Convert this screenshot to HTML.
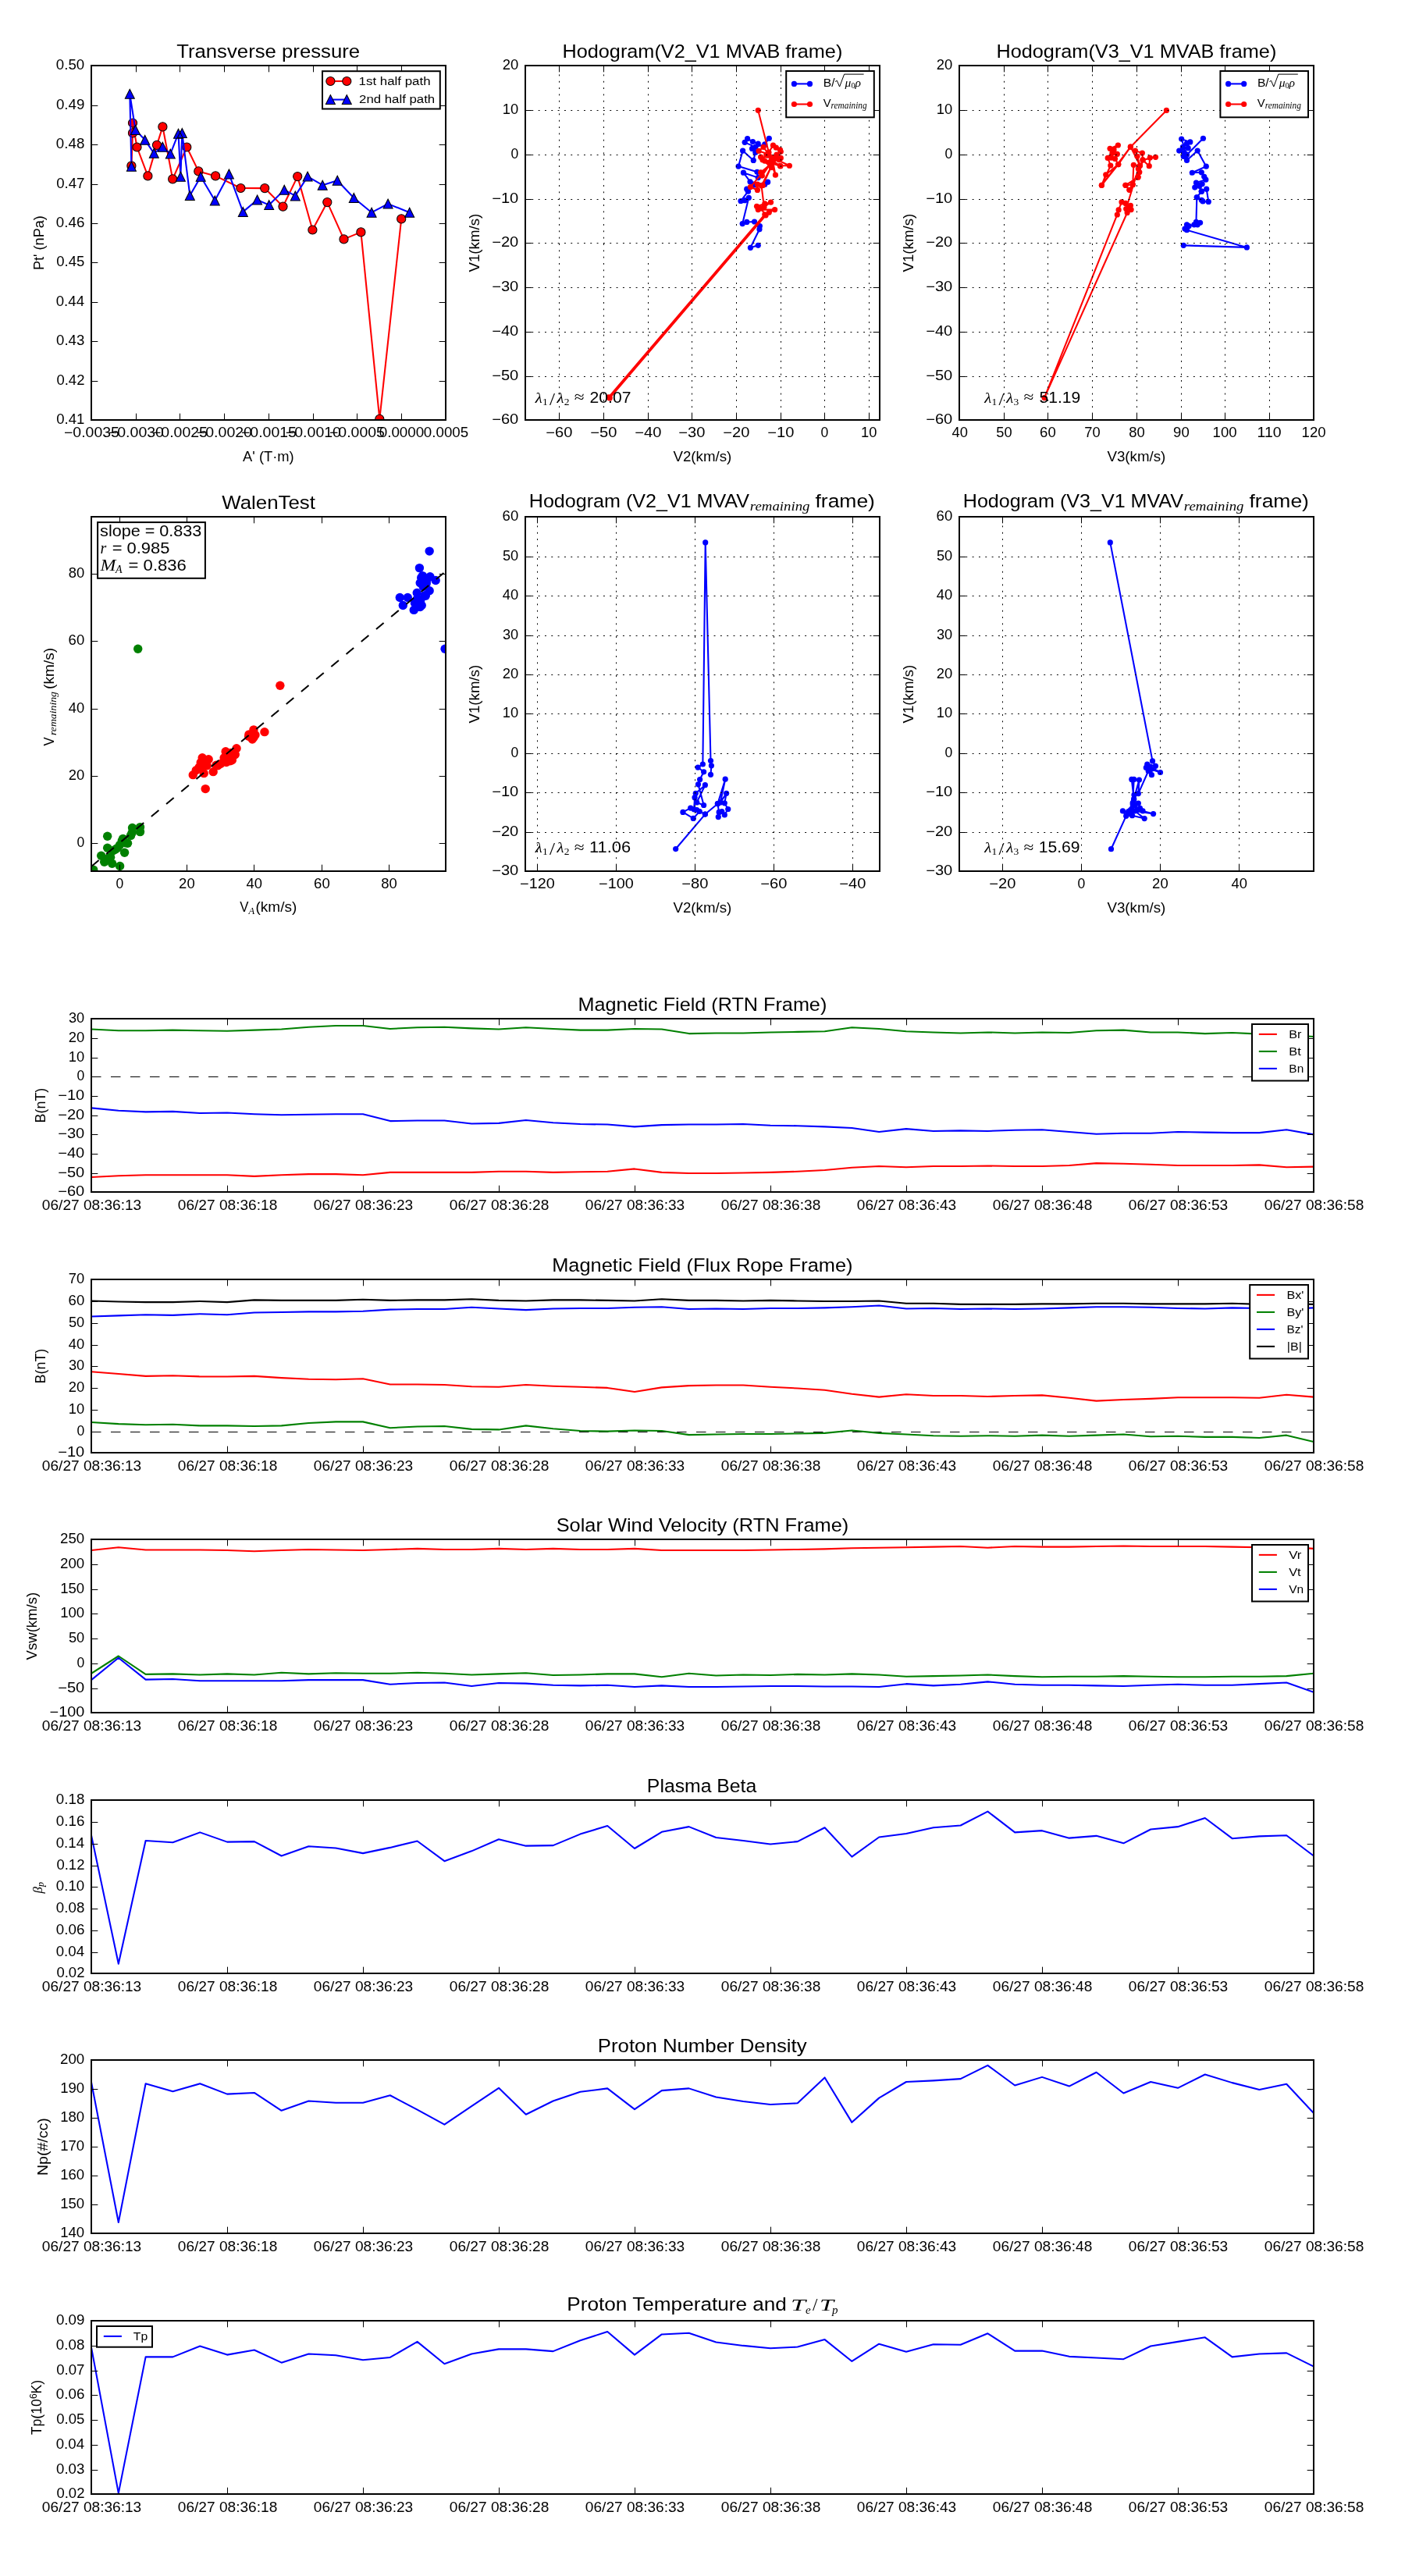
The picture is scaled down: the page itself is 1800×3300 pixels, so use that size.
<!DOCTYPE html>
<html><head><meta charset="utf-8"><title>Flux rope analysis</title>
<style>html,body{margin:0;padding:0;background:#fff}svg{display:block;font-family:"Liberation Sans",sans-serif}svg{will-change:transform}</style>
</head><body>
<svg width="1800" height="3300" viewBox="0 0 1800 3300">
<defs><clipPath id="c0"><rect x="117" y="84" width="454" height="454"/></clipPath><clipPath id="c1"><rect x="673" y="84" width="454" height="454"/></clipPath><clipPath id="c2"><rect x="1229" y="84" width="454" height="454"/></clipPath><clipPath id="c3"><rect x="117" y="662" width="454" height="454"/></clipPath><clipPath id="c4"><rect x="673" y="662" width="454" height="454"/></clipPath><clipPath id="c5"><rect x="1229" y="662" width="454" height="454"/></clipPath><clipPath id="c6"><rect x="117" y="1305" width="1566" height="222"/></clipPath><clipPath id="c7"><rect x="117" y="1639" width="1566" height="222"/></clipPath><clipPath id="c8"><rect x="117" y="1972" width="1566" height="222"/></clipPath><clipPath id="c9"><rect x="117" y="2306" width="1566" height="222"/></clipPath><clipPath id="c10"><rect x="117" y="2639" width="1566" height="222"/></clipPath><clipPath id="c11"><rect x="117" y="2973" width="1566" height="222"/></clipPath></defs>
<rect width="1800" height="3300" fill="#fff"/>
<path d="M168.4 212.4 L170 170.4 L170 157.5 L175.5 188.5 L189.4 225.4 L201 185.8 L208.4 162.4 L221.2 229.4 L239.3 188.5 L254.3 219.4 L276.1 225.4 L308.4 241 L339.2 241.1 L362.5 264.6 L381.2 226.1 L400.4 294.5 L419.3 259.1 L440.5 306.4 L462.4 297.4 L486.3 536.9 L514.2 280.4" stroke="#ff0000" stroke-width="2.08" fill="none" stroke-linejoin="round" stroke-linecap="butt" clip-path="url(#c0)"/>
<g fill="#ff0000" stroke="#000000" stroke-width="1.04" clip-path="url(#c0)"><circle cx="168.4" cy="212.4" r="5.6"/><circle cx="170" cy="170.4" r="5.6"/><circle cx="170" cy="157.5" r="5.6"/><circle cx="175.5" cy="188.5" r="5.6"/><circle cx="189.4" cy="225.4" r="5.6"/><circle cx="201" cy="185.8" r="5.6"/><circle cx="208.4" cy="162.4" r="5.6"/><circle cx="221.2" cy="229.4" r="5.6"/><circle cx="239.3" cy="188.5" r="5.6"/><circle cx="254.3" cy="219.4" r="5.6"/><circle cx="276.1" cy="225.4" r="5.6"/><circle cx="308.4" cy="241" r="5.6"/><circle cx="339.2" cy="241.1" r="5.6"/><circle cx="362.5" cy="264.6" r="5.6"/><circle cx="381.2" cy="226.1" r="5.6"/><circle cx="400.4" cy="294.5" r="5.6"/><circle cx="419.3" cy="259.1" r="5.6"/><circle cx="440.5" cy="306.4" r="5.6"/><circle cx="462.4" cy="297.4" r="5.6"/><circle cx="486.3" cy="536.9" r="5.6"/><circle cx="514.2" cy="280.4" r="5.6"/></g>
<path d="M168.4 213.2 L166.3 120.3 L173.5 166.4 L185.7 179.3 L197.3 196.3 L208.3 188.2 L218.3 197.1 L228.5 171.2 L231.4 226.2 L233.3 170.4 L243.3 250.4 L257.2 226.2 L275.3 256.9 L293.4 222.9 L311.3 271.4 L329.6 256 L344.7 262.6 L364.2 243.2 L378.3 250.9 L394.1 226.1 L413.2 237.2 L432.2 231.2 L453.3 253.5 L476.1 272.2 L497.1 261.1 L524.7 272.2" stroke="#0000ff" stroke-width="2.08" fill="none" stroke-linejoin="round" stroke-linecap="butt" clip-path="url(#c0)"/>
<path d="M168.4 207.2L162.4 219.2L174.4 219.2ZM166.3 114.3L160.3 126.3L172.3 126.3ZM173.5 160.4L167.5 172.4L179.5 172.4ZM185.7 173.3L179.7 185.3L191.7 185.3ZM197.3 190.3L191.3 202.3L203.3 202.3ZM208.3 182.2L202.3 194.2L214.3 194.2ZM218.3 191.1L212.3 203.1L224.3 203.1ZM228.5 165.2L222.5 177.2L234.5 177.2ZM231.4 220.2L225.4 232.2L237.4 232.2ZM233.3 164.4L227.3 176.4L239.3 176.4ZM243.3 244.4L237.3 256.4L249.3 256.4ZM257.2 220.2L251.2 232.2L263.2 232.2ZM275.3 250.9L269.3 262.9L281.3 262.9ZM293.4 216.9L287.4 228.9L299.4 228.9ZM311.3 265.4L305.3 277.4L317.3 277.4ZM329.6 250L323.6 262L335.6 262ZM344.7 256.6L338.7 268.6L350.7 268.6ZM364.2 237.2L358.2 249.2L370.2 249.2ZM378.3 244.9L372.3 256.9L384.3 256.9ZM394.1 220.1L388.1 232.1L400.1 232.1ZM413.2 231.2L407.2 243.2L419.2 243.2ZM432.2 225.2L426.2 237.2L438.2 237.2ZM453.3 247.5L447.3 259.5L459.3 259.5ZM476.1 266.2L470.1 278.2L482.1 278.2ZM497.1 255.1L491.1 267.1L503.1 267.1ZM524.7 266.2L518.7 278.2L530.7 278.2Z" fill="#0000ff" stroke="#000" stroke-width="1.04" stroke-linejoin="miter" clip-path="url(#c0)"/>
<rect x="117" y="84" width="454" height="454" fill="none" stroke="#000" stroke-width="2"/>
<text x="82" y="560" font-size="17.67" textLength="70.85" lengthAdjust="spacingAndGlyphs">−0.0035</text>
<text x="138.83" y="560" font-size="17.67" textLength="71.15" lengthAdjust="spacingAndGlyphs">−0.0030</text>
<text x="195" y="560" font-size="17.67" textLength="70.85" lengthAdjust="spacingAndGlyphs">−0.0025</text>
<text x="251.83" y="560" font-size="17.67" textLength="71.15" lengthAdjust="spacingAndGlyphs">−0.0020</text>
<text x="309" y="560" font-size="17.67" textLength="70.85" lengthAdjust="spacingAndGlyphs">−0.0015</text>
<text x="365.83" y="560" font-size="17.67" textLength="71.15" lengthAdjust="spacingAndGlyphs">−0.0010</text>
<text x="422" y="560" font-size="17.67" textLength="70.85" lengthAdjust="spacingAndGlyphs">−0.0005</text>
<text x="485.7" y="560" font-size="17.67" textLength="57.59" lengthAdjust="spacingAndGlyphs">0.0000</text>
<text x="542.88" y="560" font-size="17.67" textLength="57.29" lengthAdjust="spacingAndGlyphs">0.0005</text>
<path d="M117.5 538v-8.33 M117.5 84v8.33 M174.5 538v-8.33 M174.5 84v8.33 M230.5 538v-8.33 M230.5 84v8.33 M287.5 538v-8.33 M287.5 84v8.33 M344.5 538v-8.33 M344.5 84v8.33 M401.5 538v-8.33 M401.5 84v8.33 M457.5 538v-8.33 M457.5 84v8.33 M514.5 538v-8.33 M514.5 84v8.33 M571.5 538v-8.33 M571.5 84v8.33" stroke="#000" stroke-width="1" fill="none"/>
<text x="72.3" y="542.9" font-size="17.67" textLength="36.11" lengthAdjust="spacingAndGlyphs">0.41</text>
<text x="72.43" y="492.9" font-size="17.67" textLength="36" lengthAdjust="spacingAndGlyphs">0.42</text>
<text x="72.09" y="441.9" font-size="17.67" textLength="36.23" lengthAdjust="spacingAndGlyphs">0.43</text>
<text x="71.69" y="391.9" font-size="17.67" textLength="36.36" lengthAdjust="spacingAndGlyphs">0.44</text>
<text x="72.22" y="340.9" font-size="17.67" textLength="36.06" lengthAdjust="spacingAndGlyphs">0.45</text>
<text x="71.8" y="290.9" font-size="17.67" textLength="36.53" lengthAdjust="spacingAndGlyphs">0.46</text>
<text x="72.18" y="240.9" font-size="17.67" textLength="36.26" lengthAdjust="spacingAndGlyphs">0.47</text>
<text x="71.89" y="189.9" font-size="17.67" textLength="36.42" lengthAdjust="spacingAndGlyphs">0.48</text>
<text x="71.92" y="139.9" font-size="17.67" textLength="36.47" lengthAdjust="spacingAndGlyphs">0.49</text>
<text x="71.86" y="88.9" font-size="17.67" textLength="36.37" lengthAdjust="spacingAndGlyphs">0.50</text>
<path d="M117 538.5h8.33 M571 538.5h-8.33 M117 488.5h8.33 M571 488.5h-8.33 M117 437.5h8.33 M571 437.5h-8.33 M117 387.5h8.33 M571 387.5h-8.33 M117 336.5h8.33 M571 336.5h-8.33 M117 286.5h8.33 M571 286.5h-8.33 M117 236.5h8.33 M571 236.5h-8.33 M117 185.5h8.33 M571 185.5h-8.33 M117 135.5h8.33 M571 135.5h-8.33 M117 84.5h8.33 M571 84.5h-8.33" stroke="#000" stroke-width="1" fill="none"/>
<text x="226.18" y="73.8" font-size="24.3" textLength="234.92" lengthAdjust="spacingAndGlyphs">Transverse pressure</text>
<text x="311.09" y="590.8" font-size="17.67" textLength="65.62" lengthAdjust="spacingAndGlyphs">A' (T·m)</text>
<text x="20.88" y="311" font-size="17.67" textLength="69.85" lengthAdjust="spacingAndGlyphs" transform="rotate(-90 55.88 311)">Pt' (nPa)</text>
<rect x="413" y="91.2" width="150.8" height="48.3" fill="#fff" stroke="#000" stroke-width="2"/>
<path d="M423.4 104H444.3" stroke="#ff0000" stroke-width="2.08"/>
<g fill="#ff0000" stroke="#000" stroke-width="1.04"><circle cx="423.4" cy="104" r="5.6"/><circle cx="444.3" cy="104" r="5.6"/></g>
<path d="M423.4 127.6H444.3" stroke="#0000ff" stroke-width="2.08"/>
<path d="M423.4 121.6L417.4 133.6L429.4 133.6ZM444.3 121.6L438.3 133.6L450.3 133.6Z" fill="#0000ff" stroke="#000" stroke-width="1.04"/>
<text x="459.62" y="108.8" font-size="15.45" textLength="91.9" lengthAdjust="spacingAndGlyphs">1st half path</text>
<text x="460.05" y="131.8" font-size="15.45" textLength="97.18" lengthAdjust="spacingAndGlyphs">2nd half path</text>
<path d="M971.25 314.31 L961.42 317.3 L972.96 293.81 L973.38 289.54 L966.55 283.99 L956.73 284.42 L951.18 286.55 L959.29 253.24 L954.16 256.66 L949.04 257.51 L958.44 245.13 L956.73 242.14 L966.12 237.01 L983.63 233.17 L979.79 236.16 L961 232.74 L952.46 221.21 L971.25 227.62 L969.97 220.36 L946.05 213.1 L951.6 193.03 L965.27 205.41 L967.83 195.16 L963.56 190.46 L971.25 184.06 L964.41 181.5 L957.58 177.65 L954.16 182.35 L967.83 188.33 L979.79 184.91 L985.34 177.23" stroke="#0000ff" stroke-width="2.08" fill="none" stroke-linejoin="round" stroke-linecap="butt" clip-path="url(#c1)"/>
<g fill="#0000ff" clip-path="url(#c1)"><circle cx="971.25" cy="314.31" r="3.6"/><circle cx="961.42" cy="317.3" r="3.6"/><circle cx="972.96" cy="293.81" r="3.6"/><circle cx="973.38" cy="289.54" r="3.6"/><circle cx="966.55" cy="283.99" r="3.6"/><circle cx="956.73" cy="284.42" r="3.6"/><circle cx="951.18" cy="286.55" r="3.6"/><circle cx="959.29" cy="253.24" r="3.6"/><circle cx="954.16" cy="256.66" r="3.6"/><circle cx="949.04" cy="257.51" r="3.6"/><circle cx="958.44" cy="245.13" r="3.6"/><circle cx="956.73" cy="242.14" r="3.6"/><circle cx="966.12" cy="237.01" r="3.6"/><circle cx="983.63" cy="233.17" r="3.6"/><circle cx="979.79" cy="236.16" r="3.6"/><circle cx="961" cy="232.74" r="3.6"/><circle cx="952.46" cy="221.21" r="3.6"/><circle cx="971.25" cy="227.62" r="3.6"/><circle cx="969.97" cy="220.36" r="3.6"/><circle cx="946.05" cy="213.1" r="3.6"/><circle cx="951.6" cy="193.03" r="3.6"/><circle cx="965.27" cy="205.41" r="3.6"/><circle cx="967.83" cy="195.16" r="3.6"/><circle cx="963.56" cy="190.46" r="3.6"/><circle cx="971.25" cy="184.06" r="3.6"/><circle cx="964.41" cy="181.5" r="3.6"/><circle cx="957.58" cy="177.65" r="3.6"/><circle cx="954.16" cy="182.35" r="3.6"/><circle cx="967.83" cy="188.33" r="3.6"/><circle cx="979.79" cy="184.91" r="3.6"/><circle cx="985.34" cy="177.23" r="3.6"/></g>
<path d="M971.25 141.35 L984.91 195.16 L990.46 186.19 L994.31 189.18 L999.43 191.75 L1000.29 194.31 L990.04 205.41 L978.08 188.33 L972.1 193.45 L1000.29 202.42 L974.66 201.14 L979.79 206.27 L999.43 212.24 L1011.39 212.24 L981.85 198.22 L991.67 201.49 L998.22 204.76 L985.12 208.04 L994.94 198.22 L988.39 214.59 L976.94 204.76 L999.85 212.95 L988.39 204.76 L990.04 206.27 L993.45 224.2 L988.33 209.68 L974.66 220.79 L976.37 225.06 L990.04 205.41 L961.42 239.58 L970.39 243.42 L970.39 236.16 L977.23 237.44 L988.33 213.1 L975.52 237.87 L978.93 265.2 L987.48 259.22 L979.79 260.93 L969.54 264.35 L971.25 268.62 L992.6 268.62 L985.34 272.03 L979.79 274.77 L779.9 508.8 L781.2 509.9 L981.09 275.87 L974.66 266.91" stroke="#ff0000" stroke-width="2.08" fill="none" stroke-linejoin="round" stroke-linecap="butt" clip-path="url(#c1)"/>
<g fill="#ff0000" clip-path="url(#c1)"><circle cx="971.25" cy="141.35" r="3.6"/><circle cx="984.91" cy="195.16" r="3.6"/><circle cx="990.46" cy="186.19" r="3.6"/><circle cx="994.31" cy="189.18" r="3.6"/><circle cx="999.43" cy="191.75" r="3.6"/><circle cx="1000.29" cy="194.31" r="3.6"/><circle cx="990.04" cy="205.41" r="3.6"/><circle cx="978.08" cy="188.33" r="3.6"/><circle cx="972.1" cy="193.45" r="3.6"/><circle cx="1000.29" cy="202.42" r="3.6"/><circle cx="974.66" cy="201.14" r="3.6"/><circle cx="979.79" cy="206.27" r="3.6"/><circle cx="999.43" cy="212.24" r="3.6"/><circle cx="1011.39" cy="212.24" r="3.6"/><circle cx="981.85" cy="198.22" r="3.6"/><circle cx="991.67" cy="201.49" r="3.6"/><circle cx="998.22" cy="204.76" r="3.6"/><circle cx="985.12" cy="208.04" r="3.6"/><circle cx="994.94" cy="198.22" r="3.6"/><circle cx="988.39" cy="214.59" r="3.6"/><circle cx="976.94" cy="204.76" r="3.6"/><circle cx="999.85" cy="212.95" r="3.6"/><circle cx="988.39" cy="204.76" r="3.6"/><circle cx="990.04" cy="206.27" r="3.6"/><circle cx="993.45" cy="224.2" r="3.6"/><circle cx="988.33" cy="209.68" r="3.6"/><circle cx="974.66" cy="220.79" r="3.6"/><circle cx="976.37" cy="225.06" r="3.6"/><circle cx="990.04" cy="205.41" r="3.6"/><circle cx="961.42" cy="239.58" r="3.6"/><circle cx="970.39" cy="243.42" r="3.6"/><circle cx="970.39" cy="236.16" r="3.6"/><circle cx="977.23" cy="237.44" r="3.6"/><circle cx="988.33" cy="213.1" r="3.6"/><circle cx="975.52" cy="237.87" r="3.6"/><circle cx="978.93" cy="265.2" r="3.6"/><circle cx="987.48" cy="259.22" r="3.6"/><circle cx="979.79" cy="260.93" r="3.6"/><circle cx="969.54" cy="264.35" r="3.6"/><circle cx="971.25" cy="268.62" r="3.6"/><circle cx="992.6" cy="268.62" r="3.6"/><circle cx="985.34" cy="272.03" r="3.6"/><circle cx="979.79" cy="274.77" r="3.6"/><circle cx="779.9" cy="508.8" r="3.6"/><circle cx="781.2" cy="509.9" r="3.6"/><circle cx="981.09" cy="275.87" r="3.6"/><circle cx="974.66" cy="266.91" r="3.6"/></g>
<rect x="673" y="84" width="454" height="454" fill="none" stroke="#000" stroke-width="2"/>
<text x="699.36" y="560" font-size="17.67" textLength="34.08" lengthAdjust="spacingAndGlyphs">−60</text>
<text x="756.36" y="560" font-size="17.67" textLength="34.08" lengthAdjust="spacingAndGlyphs">−50</text>
<text x="813.36" y="560" font-size="17.67" textLength="34.08" lengthAdjust="spacingAndGlyphs">−40</text>
<text x="869.36" y="560" font-size="17.67" textLength="34.08" lengthAdjust="spacingAndGlyphs">−30</text>
<text x="926.36" y="560" font-size="17.67" textLength="34.08" lengthAdjust="spacingAndGlyphs">−20</text>
<text x="983.36" y="560" font-size="17.67" textLength="34.08" lengthAdjust="spacingAndGlyphs">−10</text>
<text x="1051.61" y="560" font-size="17.67" textLength="9.77" lengthAdjust="spacingAndGlyphs">0</text>
<text x="1102.97" y="560" font-size="17.67" textLength="20.39" lengthAdjust="spacingAndGlyphs">10</text>
<path d="M716.5 538.85V84 M773.5 538.85V84 M830.5 538.85V84 M886.5 538.85V84 M943.5 538.85V84 M1000.5 538.85V84 M1056.5 538.85V84 M1113.5 538.85V84" stroke="#000" stroke-width="1" stroke-dasharray="1.9 6.43" fill="none"/>
<path d="M716.5 538v-8.33 M716.5 84v8.33 M773.5 538v-8.33 M773.5 84v8.33 M830.5 538v-8.33 M830.5 84v8.33 M886.5 538v-8.33 M886.5 84v8.33 M943.5 538v-8.33 M943.5 84v8.33 M1000.5 538v-8.33 M1000.5 84v8.33 M1056.5 538v-8.33 M1056.5 84v8.33 M1113.5 538v-8.33 M1113.5 84v8.33" stroke="#000" stroke-width="1" fill="none"/>
<text x="630.2" y="542.9" font-size="17.67" textLength="34.08" lengthAdjust="spacingAndGlyphs">−60</text>
<text x="630.2" y="486.9" font-size="17.67" textLength="34.08" lengthAdjust="spacingAndGlyphs">−50</text>
<text x="630.2" y="429.9" font-size="17.67" textLength="34.08" lengthAdjust="spacingAndGlyphs">−40</text>
<text x="630.2" y="372.9" font-size="17.67" textLength="34.08" lengthAdjust="spacingAndGlyphs">−30</text>
<text x="630.2" y="315.9" font-size="17.67" textLength="34.08" lengthAdjust="spacingAndGlyphs">−20</text>
<text x="630.2" y="259.9" font-size="17.67" textLength="34.08" lengthAdjust="spacingAndGlyphs">−10</text>
<text x="654.41" y="202.9" font-size="17.67" textLength="9.77" lengthAdjust="spacingAndGlyphs">0</text>
<text x="643.83" y="145.9" font-size="17.67" textLength="20.39" lengthAdjust="spacingAndGlyphs">10</text>
<text x="643.69" y="88.9" font-size="17.67" textLength="20.53" lengthAdjust="spacingAndGlyphs">20</text>
<path d="M673 538.5H1127 M673 482.5H1127 M673 425.5H1127 M673 368.5H1127 M673 311.5H1127 M673 255.5H1127 M673 198.5H1127 M673 141.5H1127 M673 84.5H1127" stroke="#000" stroke-width="1" stroke-dasharray="1.9 6.43" fill="none"/>
<path d="M673 538.5h8.33 M1127 538.5h-8.33 M673 482.5h8.33 M1127 482.5h-8.33 M673 425.5h8.33 M1127 425.5h-8.33 M673 368.5h8.33 M1127 368.5h-8.33 M673 311.5h8.33 M1127 311.5h-8.33 M673 255.5h8.33 M1127 255.5h-8.33 M673 198.5h8.33 M1127 198.5h-8.33 M673 141.5h8.33 M1127 141.5h-8.33 M673 84.5h8.33 M1127 84.5h-8.33" stroke="#000" stroke-width="1" fill="none"/>
<text x="720.47" y="73.8" font-size="24.3" textLength="358.83" lengthAdjust="spacingAndGlyphs">Hodogram(V2_V1 MVAB frame)</text>
<text x="862.44" y="590.8" font-size="17.67" textLength="74.89" lengthAdjust="spacingAndGlyphs">V2(km/s)</text>
<text x="576.26" y="311" font-size="17.67" textLength="74.89" lengthAdjust="spacingAndGlyphs" transform="rotate(-90 613.82 311)">V1(km/s)</text>
<path d="M1541.42 177.26 L1520.5 198.19 L1513.67 178.11 L1524.77 181.96 L1520.5 183.67 L1515.37 188.36 L1522.21 189.64 L1510.68 193.06 L1517.08 195.62 L1519.64 199.04 L1516.23 200.32 L1520.5 205.45 L1534.16 193.06 L1545.27 213.13 L1527.33 221.25 L1539.29 220.82 L1542.71 226.37 L1544.84 230.22 L1532.46 234.06 L1540.14 235.77 L1530.75 240.04 L1536.73 238.33 L1539.29 245.16 L1545.7 242.17 L1548.26 258.4 L1541 257.97 L1539.29 256.27 L1533.31 252.85 L1539.29 245.16 L1533.31 252.85 L1532.46 284.45 L1537.58 285.31 L1534.16 287.87 L1529.89 287.87 L1523.06 289.58 L1520.5 287.87 L1517.94 292.99 L1520.5 294.7 L1597.37 316.91 L1516.23 314.35" stroke="#0000ff" stroke-width="2.08" fill="none" stroke-linejoin="round" stroke-linecap="butt" clip-path="url(#c2)"/>
<g fill="#0000ff" clip-path="url(#c2)"><circle cx="1541.42" cy="177.26" r="3.6"/><circle cx="1520.5" cy="198.19" r="3.6"/><circle cx="1513.67" cy="178.11" r="3.6"/><circle cx="1524.77" cy="181.96" r="3.6"/><circle cx="1520.5" cy="183.67" r="3.6"/><circle cx="1515.37" cy="188.36" r="3.6"/><circle cx="1522.21" cy="189.64" r="3.6"/><circle cx="1510.68" cy="193.06" r="3.6"/><circle cx="1517.08" cy="195.62" r="3.6"/><circle cx="1519.64" cy="199.04" r="3.6"/><circle cx="1516.23" cy="200.32" r="3.6"/><circle cx="1520.5" cy="205.45" r="3.6"/><circle cx="1534.16" cy="193.06" r="3.6"/><circle cx="1545.27" cy="213.13" r="3.6"/><circle cx="1527.33" cy="221.25" r="3.6"/><circle cx="1539.29" cy="220.82" r="3.6"/><circle cx="1542.71" cy="226.37" r="3.6"/><circle cx="1544.84" cy="230.22" r="3.6"/><circle cx="1532.46" cy="234.06" r="3.6"/><circle cx="1540.14" cy="235.77" r="3.6"/><circle cx="1530.75" cy="240.04" r="3.6"/><circle cx="1536.73" cy="238.33" r="3.6"/><circle cx="1539.29" cy="245.16" r="3.6"/><circle cx="1545.7" cy="242.17" r="3.6"/><circle cx="1548.26" cy="258.4" r="3.6"/><circle cx="1541" cy="257.97" r="3.6"/><circle cx="1539.29" cy="256.27" r="3.6"/><circle cx="1533.31" cy="252.85" r="3.6"/><circle cx="1539.29" cy="245.16" r="3.6"/><circle cx="1533.31" cy="252.85" r="3.6"/><circle cx="1532.46" cy="284.45" r="3.6"/><circle cx="1537.58" cy="285.31" r="3.6"/><circle cx="1534.16" cy="287.87" r="3.6"/><circle cx="1529.89" cy="287.87" r="3.6"/><circle cx="1523.06" cy="289.58" r="3.6"/><circle cx="1520.5" cy="287.87" r="3.6"/><circle cx="1517.94" cy="292.99" r="3.6"/><circle cx="1520.5" cy="294.7" r="3.6"/><circle cx="1597.37" cy="316.91" r="3.6"/><circle cx="1516.23" cy="314.35" r="3.6"/></g>
<path d="M1444.13 272.49 L1338 509.6 L1431.32 274.98 L1433.1 268.93 L1437.01 258.97 L1441.99 260.39 L1449.11 268.58 L1448.4 263.24 L1442.7 267.51 L1458.36 216.26 L1458.01 226.94 L1459.79 220.53 L1446.98 243.31 L1441.99 237.26 L1451.25 236.55 L1452.31 211.28 L1460.5 211.99 L1456.94 200.25 L1454.45 193.13 L1463.35 195.98 L1464.06 204.88 L1472.24 212.7 L1473.31 202.03 L1480.43 201.32 L1464.06 204.88 L1458.01 226.94 L1441.99 237.26 L1446.98 243.31 L1451.25 236.55 L1460.5 211.99 L1448.4 188.15 L1432.74 210.57 L1416.73 223.74 L1411.39 237.26 L1422.78 211.99 L1419.22 202.38 L1423.49 202.03 L1424.91 196.33 L1422.06 190.28 L1432.38 186.01 L1427.05 192.06 L1431.32 197.4 L1428.47 203.45 L1432.74 210.57 L1411.39 237.26 L1448.4 188.15 L1494.4 141.4" stroke="#ff0000" stroke-width="2.08" fill="none" stroke-linejoin="round" stroke-linecap="butt" clip-path="url(#c2)"/>
<g fill="#ff0000" clip-path="url(#c2)"><circle cx="1444.13" cy="272.49" r="3.6"/><circle cx="1338" cy="509.6" r="3.6"/><circle cx="1431.32" cy="274.98" r="3.6"/><circle cx="1433.1" cy="268.93" r="3.6"/><circle cx="1437.01" cy="258.97" r="3.6"/><circle cx="1441.99" cy="260.39" r="3.6"/><circle cx="1449.11" cy="268.58" r="3.6"/><circle cx="1448.4" cy="263.24" r="3.6"/><circle cx="1442.7" cy="267.51" r="3.6"/><circle cx="1458.36" cy="216.26" r="3.6"/><circle cx="1458.01" cy="226.94" r="3.6"/><circle cx="1459.79" cy="220.53" r="3.6"/><circle cx="1446.98" cy="243.31" r="3.6"/><circle cx="1441.99" cy="237.26" r="3.6"/><circle cx="1451.25" cy="236.55" r="3.6"/><circle cx="1452.31" cy="211.28" r="3.6"/><circle cx="1460.5" cy="211.99" r="3.6"/><circle cx="1456.94" cy="200.25" r="3.6"/><circle cx="1454.45" cy="193.13" r="3.6"/><circle cx="1463.35" cy="195.98" r="3.6"/><circle cx="1464.06" cy="204.88" r="3.6"/><circle cx="1472.24" cy="212.7" r="3.6"/><circle cx="1473.31" cy="202.03" r="3.6"/><circle cx="1480.43" cy="201.32" r="3.6"/><circle cx="1464.06" cy="204.88" r="3.6"/><circle cx="1458.01" cy="226.94" r="3.6"/><circle cx="1441.99" cy="237.26" r="3.6"/><circle cx="1446.98" cy="243.31" r="3.6"/><circle cx="1451.25" cy="236.55" r="3.6"/><circle cx="1460.5" cy="211.99" r="3.6"/><circle cx="1448.4" cy="188.15" r="3.6"/><circle cx="1432.74" cy="210.57" r="3.6"/><circle cx="1416.73" cy="223.74" r="3.6"/><circle cx="1411.39" cy="237.26" r="3.6"/><circle cx="1422.78" cy="211.99" r="3.6"/><circle cx="1419.22" cy="202.38" r="3.6"/><circle cx="1423.49" cy="202.03" r="3.6"/><circle cx="1424.91" cy="196.33" r="3.6"/><circle cx="1422.06" cy="190.28" r="3.6"/><circle cx="1432.38" cy="186.01" r="3.6"/><circle cx="1427.05" cy="192.06" r="3.6"/><circle cx="1431.32" cy="197.4" r="3.6"/><circle cx="1428.47" cy="203.45" r="3.6"/><circle cx="1432.74" cy="210.57" r="3.6"/><circle cx="1411.39" cy="237.26" r="3.6"/><circle cx="1448.4" cy="188.15" r="3.6"/><circle cx="1494.4" cy="141.4" r="3.6"/></g>
<rect x="1229" y="84" width="454" height="454" fill="none" stroke="#000" stroke-width="2"/>
<text x="1219.43" y="560" font-size="17.67" textLength="20.43" lengthAdjust="spacingAndGlyphs">40</text>
<text x="1276.36" y="560" font-size="17.67" textLength="20.26" lengthAdjust="spacingAndGlyphs">50</text>
<text x="1332.09" y="560" font-size="17.67" textLength="20.61" lengthAdjust="spacingAndGlyphs">60</text>
<text x="1389.19" y="560" font-size="17.67" textLength="20.39" lengthAdjust="spacingAndGlyphs">70</text>
<text x="1446.21" y="560" font-size="17.67" textLength="20.49" lengthAdjust="spacingAndGlyphs">80</text>
<text x="1503.1" y="560" font-size="17.67" textLength="20.65" lengthAdjust="spacingAndGlyphs">90</text>
<text x="1553.64" y="560" font-size="17.67" textLength="31.02" lengthAdjust="spacingAndGlyphs">100</text>
<text x="1610.64" y="560" font-size="17.67" textLength="31.02" lengthAdjust="spacingAndGlyphs">110</text>
<text x="1667.64" y="560" font-size="17.67" textLength="31.02" lengthAdjust="spacingAndGlyphs">120</text>
<path d="M1229.5 538.85V84 M1286.5 538.85V84 M1342.5 538.85V84 M1399.5 538.85V84 M1456.5 538.85V84 M1513.5 538.85V84 M1569.5 538.85V84 M1626.5 538.85V84 M1683.5 538.85V84" stroke="#000" stroke-width="1" stroke-dasharray="1.9 6.43" fill="none"/>
<path d="M1229.5 538v-8.33 M1229.5 84v8.33 M1286.5 538v-8.33 M1286.5 84v8.33 M1342.5 538v-8.33 M1342.5 84v8.33 M1399.5 538v-8.33 M1399.5 84v8.33 M1456.5 538v-8.33 M1456.5 84v8.33 M1513.5 538v-8.33 M1513.5 84v8.33 M1569.5 538v-8.33 M1569.5 84v8.33 M1626.5 538v-8.33 M1626.5 84v8.33 M1683.5 538v-8.33 M1683.5 84v8.33" stroke="#000" stroke-width="1" fill="none"/>
<text x="1186.2" y="542.9" font-size="17.67" textLength="34.08" lengthAdjust="spacingAndGlyphs">−60</text>
<text x="1186.2" y="486.9" font-size="17.67" textLength="34.08" lengthAdjust="spacingAndGlyphs">−50</text>
<text x="1186.2" y="429.9" font-size="17.67" textLength="34.08" lengthAdjust="spacingAndGlyphs">−40</text>
<text x="1186.2" y="372.9" font-size="17.67" textLength="34.08" lengthAdjust="spacingAndGlyphs">−30</text>
<text x="1186.2" y="315.9" font-size="17.67" textLength="34.08" lengthAdjust="spacingAndGlyphs">−20</text>
<text x="1186.2" y="259.9" font-size="17.67" textLength="34.08" lengthAdjust="spacingAndGlyphs">−10</text>
<text x="1210.41" y="202.9" font-size="17.67" textLength="9.77" lengthAdjust="spacingAndGlyphs">0</text>
<text x="1199.83" y="145.9" font-size="17.67" textLength="20.39" lengthAdjust="spacingAndGlyphs">10</text>
<text x="1199.69" y="88.9" font-size="17.67" textLength="20.53" lengthAdjust="spacingAndGlyphs">20</text>
<path d="M1229 538.5H1683 M1229 482.5H1683 M1229 425.5H1683 M1229 368.5H1683 M1229 311.5H1683 M1229 255.5H1683 M1229 198.5H1683 M1229 141.5H1683 M1229 84.5H1683" stroke="#000" stroke-width="1" stroke-dasharray="1.9 6.43" fill="none"/>
<path d="M1229 538.5h8.33 M1683 538.5h-8.33 M1229 482.5h8.33 M1683 482.5h-8.33 M1229 425.5h8.33 M1683 425.5h-8.33 M1229 368.5h8.33 M1683 368.5h-8.33 M1229 311.5h8.33 M1683 311.5h-8.33 M1229 255.5h8.33 M1683 255.5h-8.33 M1229 198.5h8.33 M1683 198.5h-8.33 M1229 141.5h8.33 M1683 141.5h-8.33 M1229 84.5h8.33 M1683 84.5h-8.33" stroke="#000" stroke-width="1" fill="none"/>
<text x="1276.47" y="73.8" font-size="24.3" textLength="358.83" lengthAdjust="spacingAndGlyphs">Hodogram(V3_V1 MVAB frame)</text>
<text x="1418.44" y="590.8" font-size="17.67" textLength="74.89" lengthAdjust="spacingAndGlyphs">V3(km/s)</text>
<text x="1132.26" y="311" font-size="17.67" textLength="74.89" lengthAdjust="spacingAndGlyphs" transform="rotate(-90 1169.82 311)">V1(km/s)</text>
<rect x="1007.2" y="91" width="112.6" height="59.3" fill="#fff" stroke="#000" stroke-width="2"/>
<path d="M1017.4 107.4H1037.5" stroke="#0000ff" stroke-width="2.08"/>
<g fill="#0000ff"><circle cx="1017.4" cy="107.4" r="3.6"/><circle cx="1037.5" cy="107.4" r="3.6"/></g>
<path d="M1017.4 133.5H1037.5" stroke="#ff0000" stroke-width="2.08"/>
<g fill="#ff0000"><circle cx="1017.4" cy="133.5" r="3.6"/><circle cx="1037.5" cy="133.5" r="3.6"/></g>
<text x="1054.75" y="110.8" font-size="15.45" textLength="14.77" lengthAdjust="spacingAndGlyphs">B/</text>
<path d="M1070.1 104.5l2.2 -1.2l3.3 7.8l6.0 -16.0H1106.6" stroke="#000" stroke-width="1" fill="none"/>
<text x="1082.6" y="110.8" font-family="Liberation Serif" font-style="italic" font-size="15.5">μ<tspan font-size="10" dy="2.5" font-style="normal">0</tspan><tspan dy="-2.5">ρ</tspan></text>
<text x="1054.65" y="137.2" font-size="15.45" textLength="9.87" lengthAdjust="spacingAndGlyphs">V</text>
<text x="1064.6" y="139" font-family="Liberation Serif" font-style="italic" font-size="13" textLength="46" lengthAdjust="spacingAndGlyphs">remaining</text>
<rect x="1563.4" y="91" width="112.6" height="59.3" fill="#fff" stroke="#000" stroke-width="2"/>
<path d="M1573.6 107.4H1593.7" stroke="#0000ff" stroke-width="2.08"/>
<g fill="#0000ff"><circle cx="1573.6" cy="107.4" r="3.6"/><circle cx="1593.7" cy="107.4" r="3.6"/></g>
<path d="M1573.6 133.5H1593.7" stroke="#ff0000" stroke-width="2.08"/>
<g fill="#ff0000"><circle cx="1573.6" cy="133.5" r="3.6"/><circle cx="1593.7" cy="133.5" r="3.6"/></g>
<text x="1610.95" y="110.8" font-size="15.45" textLength="14.77" lengthAdjust="spacingAndGlyphs">B/</text>
<path d="M1626.3 104.5l2.2 -1.2l3.3 7.8l6.0 -16.0H1662.8" stroke="#000" stroke-width="1" fill="none"/>
<text x="1638.8" y="110.8" font-family="Liberation Serif" font-style="italic" font-size="15.5">μ<tspan font-size="10" dy="2.5" font-style="normal">0</tspan><tspan dy="-2.5">ρ</tspan></text>
<text x="1610.85" y="137.2" font-size="15.45" textLength="9.87" lengthAdjust="spacingAndGlyphs">V</text>
<text x="1620.8" y="139" font-family="Liberation Serif" font-style="italic" font-size="13" textLength="46" lengthAdjust="spacingAndGlyphs">remaining</text>
<text x="685.7" y="515.9" font-family="Liberation Serif" font-style="italic" font-size="19.5" textLength="9" lengthAdjust="spacingAndGlyphs">λ</text>
<text x="694.9" y="518.5" font-family="Liberation Serif" font-size="13.5">1</text>
<text x="703.9" y="518.9" font-family="Liberation Serif" font-size="24" textLength="7" lengthAdjust="spacingAndGlyphs">/</text>
<text x="713.6" y="515.9" font-family="Liberation Serif" font-style="italic" font-size="19.5" textLength="9" lengthAdjust="spacingAndGlyphs">λ</text>
<text x="722.8" y="518.5" font-family="Liberation Serif" font-size="13.5">2</text>
<text x="735.8" y="515.4" font-family="Liberation Serif" font-size="20" textLength="12.9" lengthAdjust="spacingAndGlyphs">≈</text>
<text x="755.64" y="515.9" font-size="19.88" textLength="52.83" lengthAdjust="spacingAndGlyphs">20.07</text>
<text x="1261.3" y="515.9" font-family="Liberation Serif" font-style="italic" font-size="19.5" textLength="9" lengthAdjust="spacingAndGlyphs">λ</text>
<text x="1270.5" y="518.5" font-family="Liberation Serif" font-size="13.5">1</text>
<text x="1279.5" y="518.9" font-family="Liberation Serif" font-size="24" textLength="7" lengthAdjust="spacingAndGlyphs">/</text>
<text x="1289.2" y="515.9" font-family="Liberation Serif" font-style="italic" font-size="19.5" textLength="9" lengthAdjust="spacingAndGlyphs">λ</text>
<text x="1298.4" y="518.5" font-family="Liberation Serif" font-size="13.5">3</text>
<text x="1311.4" y="515.4" font-family="Liberation Serif" font-size="20" textLength="12.9" lengthAdjust="spacingAndGlyphs">≈</text>
<text x="1331.46" y="515.9" font-size="19.88" textLength="52.76" lengthAdjust="spacingAndGlyphs">51.19</text>
<g fill="#008000" clip-path="url(#c3)"><circle cx="176.71" cy="831.24" r="5.7"/><circle cx="137.65" cy="1071.18" r="5.7"/><circle cx="157.58" cy="1074.36" r="5.7"/><circle cx="169.53" cy="1060.41" r="5.7"/><circle cx="179.5" cy="1059.62" r="5.7"/><circle cx="179.5" cy="1065.6" r="5.7"/><circle cx="167.54" cy="1070.38" r="5.7"/><circle cx="163.56" cy="1080.34" r="5.7"/><circle cx="153.59" cy="1082.34" r="5.7"/><circle cx="147.61" cy="1088.31" r="5.7"/><circle cx="137.65" cy="1086.32" r="5.7"/><circle cx="141.63" cy="1098.28" r="5.7"/><circle cx="129.68" cy="1096.29" r="5.7"/><circle cx="133.66" cy="1104.26" r="5.7"/><circle cx="143.63" cy="1106.25" r="5.7"/><circle cx="159.57" cy="1092.3" r="5.7"/><circle cx="153.59" cy="1109.44" r="5.7"/><circle cx="119.71" cy="1114.22" r="5.7"/><circle cx="150.59" cy="1086.26" r="5.7"/><circle cx="161.26" cy="1079.86" r="5.7"/><circle cx="139.91" cy="1098.36" r="5.7"/><circle cx="134.93" cy="1101.21" r="5.7"/><circle cx="144.89" cy="1089.82" r="5.7"/><circle cx="169.09" cy="1067.05" r="5.7"/><circle cx="156.28" cy="1077.01" r="5.7"/></g>
<g fill="#ff0000" clip-path="url(#c3)"><circle cx="358.85" cy="878.27" r="5.7"/><circle cx="338.92" cy="937.66" r="5.7"/><circle cx="324.97" cy="934.87" r="5.7"/><circle cx="319" cy="940.84" r="5.7"/><circle cx="324.97" cy="944.83" r="5.7"/><circle cx="303.05" cy="958.78" r="5.7"/><circle cx="289.1" cy="962.77" r="5.7"/><circle cx="295.08" cy="974.72" r="5.7"/><circle cx="301.06" cy="966.75" r="5.7"/><circle cx="279.14" cy="980.7" r="5.7"/><circle cx="273.16" cy="988.67" r="5.7"/><circle cx="267.18" cy="972.73" r="5.7"/><circle cx="259.21" cy="970.74" r="5.7"/><circle cx="255.23" cy="982.69" r="5.7"/><circle cx="247.25" cy="992.66" r="5.7"/><circle cx="261.2" cy="990.67" r="5.7"/><circle cx="263.2" cy="1010.59" r="5.7"/><circle cx="257.22" cy="976.72" r="5.7"/><circle cx="265.19" cy="980.7" r="5.7"/><circle cx="251.24" cy="986.68" r="5.7"/><circle cx="287.11" cy="970.74" r="5.7"/><circle cx="318.63" cy="943.26" r="5.7"/><circle cx="323.26" cy="946.96" r="5.7"/><circle cx="326.96" cy="941.41" r="5.7"/><circle cx="291.8" cy="971.01" r="5.7"/><circle cx="297.35" cy="973.78" r="5.7"/><circle cx="289.95" cy="976.56" r="5.7"/><circle cx="301.05" cy="966.38" r="5.7"/><circle cx="277" cy="980.26" r="5.7"/><circle cx="282.55" cy="978.41" r="5.7"/><circle cx="263.13" cy="980.26" r="5.7"/><circle cx="256.65" cy="983.03" r="5.7"/><circle cx="295.5" cy="964.53" r="5.7"/></g>
<g fill="#0000ff" clip-path="url(#c3)"><circle cx="550.16" cy="706.09" r="5.7"/><circle cx="537.41" cy="727.61" r="5.7"/><circle cx="541.39" cy="737.58" r="5.7"/><circle cx="550.96" cy="738.77" r="5.7"/><circle cx="558.13" cy="743.56" r="5.7"/><circle cx="538.21" cy="746.74" r="5.7"/><circle cx="546.18" cy="747.54" r="5.7"/><circle cx="512.3" cy="765.48" r="5.7"/><circle cx="522.26" cy="765.48" r="5.7"/><circle cx="534.22" cy="759.5" r="5.7"/><circle cx="550.16" cy="756.71" r="5.7"/><circle cx="544.18" cy="762.69" r="5.7"/><circle cx="534.22" cy="767.47" r="5.7"/><circle cx="516.29" cy="775.44" r="5.7"/><circle cx="540.2" cy="775.44" r="5.7"/><circle cx="530.24" cy="781.42" r="5.7"/><circle cx="538.21" cy="777.43" r="5.7"/><circle cx="542.19" cy="751.53" r="5.7"/><circle cx="532.23" cy="770.66" r="5.7"/><circle cx="570.09" cy="831.24" r="5.7"/><circle cx="542.51" cy="750.31" r="5.7"/><circle cx="538.81" cy="768.81" r="5.7"/><circle cx="531.41" cy="772.51" r="5.7"/><circle cx="545.28" cy="763.26" r="5.7"/><circle cx="546.21" cy="744.75" r="5.7"/><circle cx="539.73" cy="740.13" r="5.7"/><circle cx="536.96" cy="777.13" r="5.7"/></g>
<path d="M117 1110.03 L571 731.84" stroke="#000000" stroke-width="2.08" fill="none" stroke-linejoin="round" stroke-linecap="butt" clip-path="url(#c3)" stroke-dasharray="12.5 12.5"/>
<rect x="117" y="662" width="454" height="454" fill="none" stroke="#000" stroke-width="2"/>
<text x="148.61" y="1138" font-size="17.67" textLength="9.77" lengthAdjust="spacingAndGlyphs">0</text>
<text x="229.13" y="1138" font-size="17.67" textLength="20.53" lengthAdjust="spacingAndGlyphs">20</text>
<text x="315.43" y="1138" font-size="17.67" textLength="20.43" lengthAdjust="spacingAndGlyphs">40</text>
<text x="402.09" y="1138" font-size="17.67" textLength="20.61" lengthAdjust="spacingAndGlyphs">60</text>
<text x="488.21" y="1138" font-size="17.67" textLength="20.49" lengthAdjust="spacingAndGlyphs">80</text>
<path d="M153.5 1116v-8.33 M153.5 662v8.33 M239.5 1116v-8.33 M239.5 662v8.33 M325.5 1116v-8.33 M325.5 662v8.33 M412.5 1116v-8.33 M412.5 662v8.33 M498.5 1116v-8.33 M498.5 662v8.33" stroke="#000" stroke-width="1" fill="none"/>
<text x="98.41" y="1084.9" font-size="17.67" textLength="9.77" lengthAdjust="spacingAndGlyphs">0</text>
<text x="87.69" y="998.9" font-size="17.67" textLength="20.53" lengthAdjust="spacingAndGlyphs">20</text>
<text x="87.79" y="912.9" font-size="17.67" textLength="20.43" lengthAdjust="spacingAndGlyphs">40</text>
<text x="87.62" y="825.9" font-size="17.67" textLength="20.61" lengthAdjust="spacingAndGlyphs">60</text>
<text x="87.73" y="739.9" font-size="17.67" textLength="20.49" lengthAdjust="spacingAndGlyphs">80</text>
<path d="M117 1080.5h8.33 M571 1080.5h-8.33 M117 994.5h8.33 M571 994.5h-8.33 M117 908.5h8.33 M571 908.5h-8.33 M117 821.5h8.33 M571 821.5h-8.33 M117 735.5h8.33 M571 735.5h-8.33" stroke="#000" stroke-width="1" fill="none"/>
<text x="284.28" y="651.8" font-size="24.3" textLength="119.72" lengthAdjust="spacingAndGlyphs">WalenTest</text>
<text x="307.3" y="1167.9" font-size="17.67" textLength="11.2" lengthAdjust="spacingAndGlyphs">V</text>
<text x="318.5" y="1171" font-family="Liberation Serif" font-style="italic" font-size="12.5">A</text>
<text x="327.56" y="1167.9" font-size="17.67" textLength="52.69" lengthAdjust="spacingAndGlyphs">(km/s)</text>
<g transform="translate(68.6 0) rotate(-90)"><text x="-955.5" y="0" font-size="17.67" textLength="11.2" lengthAdjust="spacingAndGlyphs">V</text>
<text x="-942" y="3" font-family="Liberation Serif" font-style="italic" font-size="13" textLength="56" lengthAdjust="spacingAndGlyphs">remaining</text>
<text x="-883" y="0" font-size="17.67" textLength="53.2" lengthAdjust="spacingAndGlyphs">(km/s)</text></g>
<rect x="125.1" y="669.1" width="137.8" height="71.7" fill="#fff" stroke="#000" stroke-width="2"/>
<text x="128.1" y="686.8" font-size="19.88" textLength="130.23" lengthAdjust="spacingAndGlyphs">slope = 0.833</text>
<text x="128.5" y="708.7" font-family="Liberation Serif" font-style="italic" font-size="20">r</text>
<text x="143.73" y="708.7" font-size="19.88" textLength="73.71" lengthAdjust="spacingAndGlyphs">= 0.985</text>
<text x="128.5" y="730.6" font-family="Liberation Serif" font-style="italic" font-size="20" textLength="20" lengthAdjust="spacingAndGlyphs">M</text>
<text x="148" y="733.8" font-family="Liberation Serif" font-style="italic" font-size="14">A</text>
<text x="164.62" y="730.6" font-size="19.88" textLength="74.23" lengthAdjust="spacingAndGlyphs">= 0.836</text>
<path d="M865.66 1087.54 L903.38 1043.06 L919.4 1029.72 L929.18 998.22 L922.95 1027.94 L930.6 1016.37 L928.29 1028.83 L932.74 1036.48 L928.29 1043.95 L924.73 1039.5 L920.28 1046.62 L921.17 1040.39 L919.4 1029.72 L903.38 1043.06 L896.26 1039.5 L888.26 1048.4 L874.91 1040.39 L884.7 1035.05 L892.7 1037.72 L889.15 1036.83 L890.04 1021.71 L891.28 1016.37 L903.38 1005.69 L892.7 1027.94 L901.6 1031.49 L894.48 1004.8 L896.62 998.58 L901.6 988.79 L894.13 983.1 L900.36 979 L903.7 694.9 L910.5 974.56 L911.39 980.78 L910.5 992.35" stroke="#0000ff" stroke-width="2.08" fill="none" stroke-linejoin="round" stroke-linecap="butt" clip-path="url(#c4)"/>
<g fill="#0000ff" clip-path="url(#c4)"><circle cx="865.66" cy="1087.54" r="3.6"/><circle cx="903.38" cy="1043.06" r="3.6"/><circle cx="919.4" cy="1029.72" r="3.6"/><circle cx="929.18" cy="998.22" r="3.6"/><circle cx="922.95" cy="1027.94" r="3.6"/><circle cx="930.6" cy="1016.37" r="3.6"/><circle cx="928.29" cy="1028.83" r="3.6"/><circle cx="932.74" cy="1036.48" r="3.6"/><circle cx="928.29" cy="1043.95" r="3.6"/><circle cx="924.73" cy="1039.5" r="3.6"/><circle cx="920.28" cy="1046.62" r="3.6"/><circle cx="921.17" cy="1040.39" r="3.6"/><circle cx="919.4" cy="1029.72" r="3.6"/><circle cx="903.38" cy="1043.06" r="3.6"/><circle cx="896.26" cy="1039.5" r="3.6"/><circle cx="888.26" cy="1048.4" r="3.6"/><circle cx="874.91" cy="1040.39" r="3.6"/><circle cx="884.7" cy="1035.05" r="3.6"/><circle cx="892.7" cy="1037.72" r="3.6"/><circle cx="889.15" cy="1036.83" r="3.6"/><circle cx="890.04" cy="1021.71" r="3.6"/><circle cx="891.28" cy="1016.37" r="3.6"/><circle cx="903.38" cy="1005.69" r="3.6"/><circle cx="892.7" cy="1027.94" r="3.6"/><circle cx="901.6" cy="1031.49" r="3.6"/><circle cx="894.48" cy="1004.8" r="3.6"/><circle cx="896.62" cy="998.58" r="3.6"/><circle cx="901.6" cy="988.79" r="3.6"/><circle cx="894.13" cy="983.1" r="3.6"/><circle cx="900.36" cy="979" r="3.6"/><circle cx="903.7" cy="694.9" r="3.6"/><circle cx="910.5" cy="974.56" r="3.6"/><circle cx="911.39" cy="980.78" r="3.6"/><circle cx="910.5" cy="992.35" r="3.6"/></g>
<rect x="673" y="662" width="454" height="454" fill="none" stroke="#000" stroke-width="2"/>
<text x="666.07" y="1138" font-size="17.67" textLength="44.66" lengthAdjust="spacingAndGlyphs">−120</text>
<text x="767.07" y="1138" font-size="17.67" textLength="44.66" lengthAdjust="spacingAndGlyphs">−100</text>
<text x="873.36" y="1138" font-size="17.67" textLength="34.08" lengthAdjust="spacingAndGlyphs">−80</text>
<text x="974.36" y="1138" font-size="17.67" textLength="34.08" lengthAdjust="spacingAndGlyphs">−60</text>
<text x="1075.36" y="1138" font-size="17.67" textLength="34.08" lengthAdjust="spacingAndGlyphs">−40</text>
<path d="M688.5 1116.85V662 M789.5 1116.85V662 M890.5 1116.85V662 M991.5 1116.85V662 M1092.5 1116.85V662" stroke="#000" stroke-width="1" stroke-dasharray="1.9 6.43" fill="none"/>
<path d="M688.5 1116v-8.33 M688.5 662v8.33 M789.5 1116v-8.33 M789.5 662v8.33 M890.5 1116v-8.33 M890.5 662v8.33 M991.5 1116v-8.33 M991.5 662v8.33 M1092.5 1116v-8.33 M1092.5 662v8.33" stroke="#000" stroke-width="1" fill="none"/>
<text x="630.2" y="1120.9" font-size="17.67" textLength="34.08" lengthAdjust="spacingAndGlyphs">−30</text>
<text x="630.2" y="1070.9" font-size="17.67" textLength="34.08" lengthAdjust="spacingAndGlyphs">−20</text>
<text x="630.2" y="1019.9" font-size="17.67" textLength="34.08" lengthAdjust="spacingAndGlyphs">−10</text>
<text x="654.41" y="969.9" font-size="17.67" textLength="9.77" lengthAdjust="spacingAndGlyphs">0</text>
<text x="643.83" y="918.9" font-size="17.67" textLength="20.39" lengthAdjust="spacingAndGlyphs">10</text>
<text x="643.69" y="868.9" font-size="17.67" textLength="20.53" lengthAdjust="spacingAndGlyphs">20</text>
<text x="643.97" y="818.9" font-size="17.67" textLength="20.24" lengthAdjust="spacingAndGlyphs">30</text>
<text x="643.79" y="767.9" font-size="17.67" textLength="20.43" lengthAdjust="spacingAndGlyphs">40</text>
<text x="643.95" y="717.9" font-size="17.67" textLength="20.26" lengthAdjust="spacingAndGlyphs">50</text>
<text x="643.62" y="666.9" font-size="17.67" textLength="20.61" lengthAdjust="spacingAndGlyphs">60</text>
<path d="M673 1116.5H1127 M673 1066.5H1127 M673 1015.5H1127 M673 965.5H1127 M673 914.5H1127 M673 864.5H1127 M673 814.5H1127 M673 763.5H1127 M673 713.5H1127 M673 662.5H1127" stroke="#000" stroke-width="1" stroke-dasharray="1.9 6.43" fill="none"/>
<path d="M673 1116.5h8.33 M1127 1116.5h-8.33 M673 1066.5h8.33 M1127 1066.5h-8.33 M673 1015.5h8.33 M1127 1015.5h-8.33 M673 965.5h8.33 M1127 965.5h-8.33 M673 914.5h8.33 M1127 914.5h-8.33 M673 864.5h8.33 M1127 864.5h-8.33 M673 814.5h8.33 M1127 814.5h-8.33 M673 763.5h8.33 M1127 763.5h-8.33 M673 713.5h8.33 M1127 713.5h-8.33 M673 662.5h8.33 M1127 662.5h-8.33" stroke="#000" stroke-width="1" fill="none"/>
<text x="677.77" y="650.1" font-size="24.3" textLength="282.18" lengthAdjust="spacingAndGlyphs">Hodogram (V2_V1 MVAV</text>
<text x="960.85" y="653.5" font-family="Liberation Serif" font-style="italic" font-size="16" textLength="76.6" lengthAdjust="spacingAndGlyphs">remaining</text>
<text x="1044.49" y="650.1" font-size="24.3" textLength="76.43" lengthAdjust="spacingAndGlyphs">frame)</text>
<text x="862.44" y="1168.8" font-size="17.67" textLength="74.89" lengthAdjust="spacingAndGlyphs">V2(km/s)</text>
<text x="576.26" y="889" font-size="17.67" textLength="74.89" lengthAdjust="spacingAndGlyphs" transform="rotate(-90 613.82 889)">V1(km/s)</text>
<text x="685.7" y="1092.3" font-family="Liberation Serif" font-style="italic" font-size="19.5" textLength="9" lengthAdjust="spacingAndGlyphs">λ</text>
<text x="694.9" y="1094.9" font-family="Liberation Serif" font-size="13.5">1</text>
<text x="703.9" y="1095.3" font-family="Liberation Serif" font-size="24" textLength="7" lengthAdjust="spacingAndGlyphs">/</text>
<text x="713.6" y="1092.3" font-family="Liberation Serif" font-style="italic" font-size="19.5" textLength="9" lengthAdjust="spacingAndGlyphs">λ</text>
<text x="722.8" y="1094.9" font-family="Liberation Serif" font-size="13.5">2</text>
<text x="735.8" y="1091.8" font-family="Liberation Serif" font-size="20" textLength="12.9" lengthAdjust="spacingAndGlyphs">≈</text>
<text x="755.09" y="1092.3" font-size="19.88" textLength="52.98" lengthAdjust="spacingAndGlyphs">11.06</text>
<path d="M1423.49 1087.72 L1442.7 1045.37 L1438.43 1038.97 L1446.26 1042.53 L1450.53 1044.66 L1466.19 1048.58 L1454.09 1038.97 L1477.58 1042.53 L1464.06 1038.97 L1460.5 1035.41 L1458.36 1029 L1451.25 1030.43 L1448.4 1037.54 L1454.09 1031.85 L1449.82 1040.39 L1456.94 1037.54 L1445.55 1039.68 L1452.67 1024.73 L1453.02 1018.33 L1452.67 1023.31 L1449.82 998.4 L1452.67 998.4 L1451.25 1028.29 L1459.43 999.11 L1458.36 1016.55 L1471.17 987.72 L1475.44 992.7 L1474.73 985.59 L1486.48 989.5 L1473.31 982.03 L1468.33 983.45 L1469.75 979.18 L1480.43 981.32 L1476.51 974.91 L1422.3 694.9" stroke="#0000ff" stroke-width="2.08" fill="none" stroke-linejoin="round" stroke-linecap="butt" clip-path="url(#c5)"/>
<g fill="#0000ff" clip-path="url(#c5)"><circle cx="1423.49" cy="1087.72" r="3.6"/><circle cx="1442.7" cy="1045.37" r="3.6"/><circle cx="1438.43" cy="1038.97" r="3.6"/><circle cx="1446.26" cy="1042.53" r="3.6"/><circle cx="1450.53" cy="1044.66" r="3.6"/><circle cx="1466.19" cy="1048.58" r="3.6"/><circle cx="1454.09" cy="1038.97" r="3.6"/><circle cx="1477.58" cy="1042.53" r="3.6"/><circle cx="1464.06" cy="1038.97" r="3.6"/><circle cx="1460.5" cy="1035.41" r="3.6"/><circle cx="1458.36" cy="1029" r="3.6"/><circle cx="1451.25" cy="1030.43" r="3.6"/><circle cx="1448.4" cy="1037.54" r="3.6"/><circle cx="1454.09" cy="1031.85" r="3.6"/><circle cx="1449.82" cy="1040.39" r="3.6"/><circle cx="1456.94" cy="1037.54" r="3.6"/><circle cx="1445.55" cy="1039.68" r="3.6"/><circle cx="1452.67" cy="1024.73" r="3.6"/><circle cx="1453.02" cy="1018.33" r="3.6"/><circle cx="1452.67" cy="1023.31" r="3.6"/><circle cx="1449.82" cy="998.4" r="3.6"/><circle cx="1452.67" cy="998.4" r="3.6"/><circle cx="1451.25" cy="1028.29" r="3.6"/><circle cx="1459.43" cy="999.11" r="3.6"/><circle cx="1458.36" cy="1016.55" r="3.6"/><circle cx="1471.17" cy="987.72" r="3.6"/><circle cx="1475.44" cy="992.7" r="3.6"/><circle cx="1474.73" cy="985.59" r="3.6"/><circle cx="1486.48" cy="989.5" r="3.6"/><circle cx="1473.31" cy="982.03" r="3.6"/><circle cx="1468.33" cy="983.45" r="3.6"/><circle cx="1469.75" cy="979.18" r="3.6"/><circle cx="1480.43" cy="981.32" r="3.6"/><circle cx="1476.51" cy="974.91" r="3.6"/><circle cx="1422.3" cy="694.9" r="3.6"/></g>
<rect x="1229" y="662" width="454" height="454" fill="none" stroke="#000" stroke-width="2"/>
<text x="1267.36" y="1138" font-size="17.67" textLength="34.08" lengthAdjust="spacingAndGlyphs">−20</text>
<text x="1380.61" y="1138" font-size="17.67" textLength="9.77" lengthAdjust="spacingAndGlyphs">0</text>
<text x="1476.13" y="1138" font-size="17.67" textLength="20.53" lengthAdjust="spacingAndGlyphs">20</text>
<text x="1577.43" y="1138" font-size="17.67" textLength="20.43" lengthAdjust="spacingAndGlyphs">40</text>
<path d="M1284.5 1116.85V662 M1385.5 1116.85V662 M1486.5 1116.85V662 M1587.5 1116.85V662" stroke="#000" stroke-width="1" stroke-dasharray="1.9 6.43" fill="none"/>
<path d="M1284.5 1116v-8.33 M1284.5 662v8.33 M1385.5 1116v-8.33 M1385.5 662v8.33 M1486.5 1116v-8.33 M1486.5 662v8.33 M1587.5 1116v-8.33 M1587.5 662v8.33" stroke="#000" stroke-width="1" fill="none"/>
<text x="1186.2" y="1120.9" font-size="17.67" textLength="34.08" lengthAdjust="spacingAndGlyphs">−30</text>
<text x="1186.2" y="1070.9" font-size="17.67" textLength="34.08" lengthAdjust="spacingAndGlyphs">−20</text>
<text x="1186.2" y="1019.9" font-size="17.67" textLength="34.08" lengthAdjust="spacingAndGlyphs">−10</text>
<text x="1210.41" y="969.9" font-size="17.67" textLength="9.77" lengthAdjust="spacingAndGlyphs">0</text>
<text x="1199.83" y="918.9" font-size="17.67" textLength="20.39" lengthAdjust="spacingAndGlyphs">10</text>
<text x="1199.69" y="868.9" font-size="17.67" textLength="20.53" lengthAdjust="spacingAndGlyphs">20</text>
<text x="1199.97" y="818.9" font-size="17.67" textLength="20.24" lengthAdjust="spacingAndGlyphs">30</text>
<text x="1199.79" y="767.9" font-size="17.67" textLength="20.43" lengthAdjust="spacingAndGlyphs">40</text>
<text x="1199.95" y="717.9" font-size="17.67" textLength="20.26" lengthAdjust="spacingAndGlyphs">50</text>
<text x="1199.62" y="666.9" font-size="17.67" textLength="20.61" lengthAdjust="spacingAndGlyphs">60</text>
<path d="M1229 1116.5H1683 M1229 1066.5H1683 M1229 1015.5H1683 M1229 965.5H1683 M1229 914.5H1683 M1229 864.5H1683 M1229 814.5H1683 M1229 763.5H1683 M1229 713.5H1683 M1229 662.5H1683" stroke="#000" stroke-width="1" stroke-dasharray="1.9 6.43" fill="none"/>
<path d="M1229 1116.5h8.33 M1683 1116.5h-8.33 M1229 1066.5h8.33 M1683 1066.5h-8.33 M1229 1015.5h8.33 M1683 1015.5h-8.33 M1229 965.5h8.33 M1683 965.5h-8.33 M1229 914.5h8.33 M1683 914.5h-8.33 M1229 864.5h8.33 M1683 864.5h-8.33 M1229 814.5h8.33 M1683 814.5h-8.33 M1229 763.5h8.33 M1683 763.5h-8.33 M1229 713.5h8.33 M1683 713.5h-8.33 M1229 662.5h8.33 M1683 662.5h-8.33" stroke="#000" stroke-width="1" fill="none"/>
<text x="1233.77" y="650.1" font-size="24.3" textLength="282.18" lengthAdjust="spacingAndGlyphs">Hodogram (V3_V1 MVAV</text>
<text x="1516.85" y="653.5" font-family="Liberation Serif" font-style="italic" font-size="16" textLength="76.6" lengthAdjust="spacingAndGlyphs">remaining</text>
<text x="1600.49" y="650.1" font-size="24.3" textLength="76.43" lengthAdjust="spacingAndGlyphs">frame)</text>
<text x="1418.44" y="1168.8" font-size="17.67" textLength="74.89" lengthAdjust="spacingAndGlyphs">V3(km/s)</text>
<text x="1132.26" y="889" font-size="17.67" textLength="74.89" lengthAdjust="spacingAndGlyphs" transform="rotate(-90 1169.82 889)">V1(km/s)</text>
<text x="1261.3" y="1092.3" font-family="Liberation Serif" font-style="italic" font-size="19.5" textLength="9" lengthAdjust="spacingAndGlyphs">λ</text>
<text x="1270.5" y="1094.9" font-family="Liberation Serif" font-size="13.5">1</text>
<text x="1279.5" y="1095.3" font-family="Liberation Serif" font-size="24" textLength="7" lengthAdjust="spacingAndGlyphs">/</text>
<text x="1289.2" y="1092.3" font-family="Liberation Serif" font-style="italic" font-size="19.5" textLength="9" lengthAdjust="spacingAndGlyphs">λ</text>
<text x="1298.4" y="1094.9" font-family="Liberation Serif" font-size="13.5">3</text>
<text x="1311.4" y="1091.8" font-family="Liberation Serif" font-size="20" textLength="12.9" lengthAdjust="spacingAndGlyphs">≈</text>
<text x="1330.69" y="1092.3" font-size="19.88" textLength="52.91" lengthAdjust="spacingAndGlyphs">15.69</text>
<path d="M117 1379.5 L1683 1379.5" stroke="#000000" stroke-width="1.04" fill="none" stroke-linejoin="round" stroke-linecap="butt" clip-path="url(#c6)" stroke-dasharray="12.5 12.5"/>
<path d="M117 1508 L151.8 1506.32 L186.6 1505.21 L221.4 1505.21 L256.2 1505.21 L291 1505.21 L325.8 1506.88 L360.6 1505.21 L395.4 1504.1 L430.2 1504.1 L465 1505.21 L499.8 1501.87 L534.6 1501.87 L569.4 1501.87 L604.2 1501.87 L639 1500.75 L673.8 1500.75 L708.6 1501.87 L743.4 1501.31 L778.2 1500.75 L813 1497.41 L847.8 1501.87 L882.6 1502.98 L917.4 1502.98 L952.2 1502.42 L987 1501.87 L1021.8 1500.75 L1056.6 1499.08 L1091.4 1495.74 L1126.2 1494.06 L1161 1495.18 L1195.8 1494.06 L1230.6 1494.06 L1265.4 1493.51 L1300.2 1494.06 L1335 1494.06 L1369.8 1492.95 L1404.6 1490.16 L1439.4 1490.72 L1474.2 1491.83 L1509 1492.95 L1543.8 1492.95 L1578.6 1492.95 L1613.4 1492.39 L1648.2 1495.18 L1683 1494.62" stroke="#ff0000" stroke-width="2.08" fill="none" stroke-linejoin="round" stroke-linecap="butt" clip-path="url(#c6)"/>
<path d="M117 1318.52 L151.8 1320.19 L186.6 1320.19 L221.4 1319.63 L256.2 1320.19 L291 1320.75 L325.8 1319.63 L360.6 1318.52 L395.4 1315.73 L430.2 1314.06 L465 1314.06 L499.8 1317.96 L534.6 1316.29 L569.4 1315.73 L604.2 1317.4 L639 1318.52 L673.8 1316.29 L708.6 1317.96 L743.4 1319.63 L778.2 1319.63 L813 1317.96 L847.8 1318.52 L882.6 1324.09 L917.4 1323.53 L952.2 1323.53 L987 1322.42 L1021.8 1321.86 L1056.6 1321.3 L1091.4 1316.29 L1126.2 1317.96 L1161 1321.3 L1195.8 1322.42 L1230.6 1323.53 L1265.4 1322.42 L1300.2 1323.53 L1335 1322.42 L1369.8 1322.98 L1404.6 1320.19 L1439.4 1319.63 L1474.2 1322.42 L1509 1322.42 L1543.8 1324.09 L1578.6 1322.98 L1613.4 1324.65 L1648.2 1325.76 L1683 1327.99" stroke="#008000" stroke-width="2.08" fill="none" stroke-linejoin="round" stroke-linecap="butt" clip-path="url(#c6)"/>
<path d="M117 1419.39 L151.8 1422.73 L186.6 1424.4 L221.4 1423.85 L256.2 1426.07 L291 1425.52 L325.8 1427.19 L360.6 1428.3 L395.4 1427.75 L430.2 1427.19 L465 1427.19 L499.8 1436.11 L534.6 1435.55 L569.4 1435.55 L604.2 1439.45 L639 1438.89 L673.8 1434.99 L708.6 1438.33 L743.4 1440.01 L778.2 1440.56 L813 1443.35 L847.8 1441.12 L882.6 1440.56 L917.4 1440.56 L952.2 1440.01 L987 1441.68 L1021.8 1442.24 L1056.6 1443.35 L1091.4 1445.02 L1126.2 1450.04 L1161 1446.14 L1195.8 1448.92 L1230.6 1448.37 L1265.4 1448.92 L1300.2 1447.81 L1335 1447.25 L1369.8 1450.04 L1404.6 1452.82 L1439.4 1451.71 L1474.2 1451.71 L1509 1450.04 L1543.8 1450.6 L1578.6 1451.15 L1613.4 1451.15 L1648.2 1447.25 L1683 1453.38" stroke="#0000ff" stroke-width="2.08" fill="none" stroke-linejoin="round" stroke-linecap="butt" clip-path="url(#c6)"/>
<rect x="117" y="1305" width="1566" height="222" fill="none" stroke="#000" stroke-width="2"/>
<text x="53.87" y="1549.7" font-size="17.67" textLength="127.36" lengthAdjust="spacingAndGlyphs">06/27 08:36:13</text>
<text x="227.77" y="1549.7" font-size="17.67" textLength="127.55" lengthAdjust="spacingAndGlyphs">06/27 08:36:18</text>
<text x="401.87" y="1549.7" font-size="17.67" textLength="127.36" lengthAdjust="spacingAndGlyphs">06/27 08:36:23</text>
<text x="575.77" y="1549.7" font-size="17.67" textLength="127.55" lengthAdjust="spacingAndGlyphs">06/27 08:36:28</text>
<text x="749.87" y="1549.7" font-size="17.67" textLength="127.36" lengthAdjust="spacingAndGlyphs">06/27 08:36:33</text>
<text x="923.77" y="1549.7" font-size="17.67" textLength="127.55" lengthAdjust="spacingAndGlyphs">06/27 08:36:38</text>
<text x="1097.87" y="1549.7" font-size="17.67" textLength="127.36" lengthAdjust="spacingAndGlyphs">06/27 08:36:43</text>
<text x="1271.77" y="1549.7" font-size="17.67" textLength="127.55" lengthAdjust="spacingAndGlyphs">06/27 08:36:48</text>
<text x="1445.87" y="1549.7" font-size="17.67" textLength="127.36" lengthAdjust="spacingAndGlyphs">06/27 08:36:53</text>
<text x="1619.77" y="1549.7" font-size="17.67" textLength="127.55" lengthAdjust="spacingAndGlyphs">06/27 08:36:58</text>
<path d="M117.5 1527v-8.33 M117.5 1305v8.33 M291.5 1527v-8.33 M291.5 1305v8.33 M465.5 1527v-8.33 M465.5 1305v8.33 M639.5 1527v-8.33 M639.5 1305v8.33 M813.5 1527v-8.33 M813.5 1305v8.33 M987.5 1527v-8.33 M987.5 1305v8.33 M1161.5 1527v-8.33 M1161.5 1305v8.33 M1335.5 1527v-8.33 M1335.5 1305v8.33 M1509.5 1527v-8.33 M1509.5 1305v8.33 M1683.5 1527v-8.33 M1683.5 1305v8.33" stroke="#000" stroke-width="1" fill="none"/>
<text x="74.2" y="1531.9" font-size="17.67" textLength="34.08" lengthAdjust="spacingAndGlyphs">−60</text>
<text x="74.2" y="1507.9" font-size="17.67" textLength="34.08" lengthAdjust="spacingAndGlyphs">−50</text>
<text x="74.2" y="1482.9" font-size="17.67" textLength="34.08" lengthAdjust="spacingAndGlyphs">−40</text>
<text x="74.2" y="1457.9" font-size="17.67" textLength="34.08" lengthAdjust="spacingAndGlyphs">−30</text>
<text x="74.2" y="1433.9" font-size="17.67" textLength="34.08" lengthAdjust="spacingAndGlyphs">−20</text>
<text x="74.2" y="1408.9" font-size="17.67" textLength="34.08" lengthAdjust="spacingAndGlyphs">−10</text>
<text x="98.41" y="1383.9" font-size="17.67" textLength="9.77" lengthAdjust="spacingAndGlyphs">0</text>
<text x="87.83" y="1359.9" font-size="17.67" textLength="20.39" lengthAdjust="spacingAndGlyphs">10</text>
<text x="87.69" y="1334.9" font-size="17.67" textLength="20.53" lengthAdjust="spacingAndGlyphs">20</text>
<text x="87.97" y="1309.9" font-size="17.67" textLength="20.24" lengthAdjust="spacingAndGlyphs">30</text>
<path d="M117 1527.5h8.33 M1683 1527.5h-8.33 M117 1503.5h8.33 M1683 1503.5h-8.33 M117 1478.5h8.33 M1683 1478.5h-8.33 M117 1453.5h8.33 M1683 1453.5h-8.33 M117 1429.5h8.33 M1683 1429.5h-8.33 M117 1404.5h8.33 M1683 1404.5h-8.33 M117 1379.5h8.33 M1683 1379.5h-8.33 M117 1355.5h8.33 M1683 1355.5h-8.33 M117 1330.5h8.33 M1683 1330.5h-8.33 M117 1305.5h8.33 M1683 1305.5h-8.33" stroke="#000" stroke-width="1" fill="none"/>
<text x="740.48" y="1294.8" font-size="24.3" textLength="318.82" lengthAdjust="spacingAndGlyphs">Magnetic Field (RTN Frame)</text>
<text x="35.39" y="1416" font-size="17.67" textLength="44.7" lengthAdjust="spacingAndGlyphs" transform="rotate(-90 57.82 1416)">B(nT)</text>
<rect x="1604" y="1312" width="72" height="72.5" fill="#fff" stroke="#000" stroke-width="2"/>
<path d="M1612.8 1324.9H1635.9" stroke="#ff0000" stroke-width="2.08"/>
<text x="1651.31" y="1329.9" font-size="15.45" textLength="16.16" lengthAdjust="spacingAndGlyphs">Br</text>
<path d="M1612.8 1346.9H1635.9" stroke="#008000" stroke-width="2.08"/>
<text x="1651.29" y="1351.9" font-size="15.45" textLength="15.4" lengthAdjust="spacingAndGlyphs">Bt</text>
<path d="M1612.8 1368.9H1635.9" stroke="#0000ff" stroke-width="2.08"/>
<text x="1651.37" y="1373.9" font-size="15.45" textLength="18.84" lengthAdjust="spacingAndGlyphs">Bn</text>
<path d="M117 1834.5 L1683 1834.5" stroke="#000000" stroke-width="1.04" fill="none" stroke-linejoin="round" stroke-linecap="butt" clip-path="url(#c7)" stroke-dasharray="12.5 12.5"/>
<path d="M117 1757.29 L151.8 1760.07 L186.6 1762.86 L221.4 1762.3 L256.2 1763.42 L291 1763.42 L325.8 1762.86 L360.6 1765.09 L395.4 1766.76 L430.2 1767.32 L465 1766.2 L499.8 1773.45 L534.6 1773.45 L569.4 1774.01 L604.2 1776.24 L639 1776.79 L673.8 1774.01 L708.6 1775.68 L743.4 1776.79 L778.2 1777.91 L813 1782.92 L847.8 1777.35 L882.6 1775.12 L917.4 1774.56 L952.2 1774.56 L987 1776.79 L1021.8 1778.47 L1056.6 1780.69 L1091.4 1785.71 L1126.2 1789.61 L1161 1786.27 L1195.8 1787.94 L1230.6 1787.94 L1265.4 1789.05 L1300.2 1787.94 L1335 1787.38 L1369.8 1790.73 L1404.6 1794.63 L1439.4 1792.95 L1474.2 1791.84 L1509 1790.17 L1543.8 1790.17 L1578.6 1790.17 L1613.4 1790.73 L1648.2 1786.82 L1683 1789.61" stroke="#ff0000" stroke-width="2.08" fill="none" stroke-linejoin="round" stroke-linecap="butt" clip-path="url(#c7)"/>
<path d="M117 1821.93 L151.8 1824.16 L186.6 1825.28 L221.4 1824.72 L256.2 1826.39 L291 1826.39 L325.8 1826.95 L360.6 1826.39 L395.4 1823.05 L430.2 1821.38 L465 1821.38 L499.8 1829.18 L534.6 1827.51 L569.4 1826.95 L604.2 1830.85 L639 1831.41 L673.8 1826.39 L708.6 1830.29 L743.4 1833.08 L778.2 1833.64 L813 1832.52 L847.8 1833.08 L882.6 1838.1 L917.4 1837.54 L952.2 1836.98 L987 1836.98 L1021.8 1836.42 L1056.6 1835.87 L1091.4 1832.52 L1126.2 1835.87 L1161 1837.54 L1195.8 1839.21 L1230.6 1839.77 L1265.4 1839.21 L1300.2 1839.77 L1335 1838.65 L1369.8 1839.77 L1404.6 1838.65 L1439.4 1837.54 L1474.2 1840.32 L1509 1839.77 L1543.8 1840.88 L1578.6 1840.88 L1613.4 1842 L1648.2 1838.65 L1683 1847.01" stroke="#008000" stroke-width="2.08" fill="none" stroke-linejoin="round" stroke-linecap="butt" clip-path="url(#c7)"/>
<path d="M117 1686.51 L151.8 1685.4 L186.6 1684.28 L221.4 1684.84 L256.2 1683.17 L291 1684.28 L325.8 1681.5 L360.6 1680.94 L395.4 1680.38 L430.2 1680.38 L465 1679.82 L499.8 1677.6 L534.6 1677.04 L569.4 1677.04 L604.2 1674.81 L639 1676.48 L673.8 1678.15 L708.6 1676.48 L743.4 1675.92 L778.2 1675.92 L813 1674.81 L847.8 1674.25 L882.6 1677.04 L917.4 1676.48 L952.2 1677.04 L987 1675.92 L1021.8 1675.92 L1056.6 1675.37 L1091.4 1674.25 L1126.2 1672.58 L1161 1676.48 L1195.8 1675.92 L1230.6 1677.04 L1265.4 1676.48 L1300.2 1677.04 L1335 1676.48 L1369.8 1675.37 L1404.6 1674.25 L1439.4 1674.25 L1474.2 1674.81 L1509 1675.92 L1543.8 1676.48 L1578.6 1675.37 L1613.4 1675.92 L1648.2 1677.04 L1683 1675.37" stroke="#0000ff" stroke-width="2.08" fill="none" stroke-linejoin="round" stroke-linecap="butt" clip-path="url(#c7)"/>
<path d="M117 1666.45 L151.8 1667.56 L186.6 1668.12 L221.4 1668.12 L256.2 1667.01 L291 1668.12 L325.8 1665.34 L360.6 1665.89 L395.4 1665.89 L430.2 1665.89 L465 1664.78 L499.8 1665.89 L534.6 1665.34 L569.4 1665.34 L604.2 1664.22 L639 1665.89 L673.8 1666.45 L708.6 1665.34 L743.4 1665.34 L778.2 1665.89 L813 1666.45 L847.8 1664.22 L882.6 1665.89 L917.4 1665.89 L952.2 1666.45 L987 1665.89 L1021.8 1666.45 L1056.6 1667.01 L1091.4 1667.01 L1126.2 1666.45 L1161 1669.79 L1195.8 1669.79 L1230.6 1670.91 L1265.4 1670.91 L1300.2 1670.91 L1335 1670.35 L1369.8 1670.35 L1404.6 1669.79 L1439.4 1669.79 L1474.2 1670.35 L1509 1670.35 L1543.8 1670.35 L1578.6 1669.79 L1613.4 1670.91 L1648.2 1670.35 L1683 1670.91" stroke="#000000" stroke-width="2.08" fill="none" stroke-linejoin="round" stroke-linecap="butt" clip-path="url(#c7)"/>
<rect x="117" y="1639" width="1566" height="222" fill="none" stroke="#000" stroke-width="2"/>
<text x="53.87" y="1883.7" font-size="17.67" textLength="127.36" lengthAdjust="spacingAndGlyphs">06/27 08:36:13</text>
<text x="227.77" y="1883.7" font-size="17.67" textLength="127.55" lengthAdjust="spacingAndGlyphs">06/27 08:36:18</text>
<text x="401.87" y="1883.7" font-size="17.67" textLength="127.36" lengthAdjust="spacingAndGlyphs">06/27 08:36:23</text>
<text x="575.77" y="1883.7" font-size="17.67" textLength="127.55" lengthAdjust="spacingAndGlyphs">06/27 08:36:28</text>
<text x="749.87" y="1883.7" font-size="17.67" textLength="127.36" lengthAdjust="spacingAndGlyphs">06/27 08:36:33</text>
<text x="923.77" y="1883.7" font-size="17.67" textLength="127.55" lengthAdjust="spacingAndGlyphs">06/27 08:36:38</text>
<text x="1097.87" y="1883.7" font-size="17.67" textLength="127.36" lengthAdjust="spacingAndGlyphs">06/27 08:36:43</text>
<text x="1271.77" y="1883.7" font-size="17.67" textLength="127.55" lengthAdjust="spacingAndGlyphs">06/27 08:36:48</text>
<text x="1445.87" y="1883.7" font-size="17.67" textLength="127.36" lengthAdjust="spacingAndGlyphs">06/27 08:36:53</text>
<text x="1619.77" y="1883.7" font-size="17.67" textLength="127.55" lengthAdjust="spacingAndGlyphs">06/27 08:36:58</text>
<path d="M117.5 1861v-8.33 M117.5 1639v8.33 M291.5 1861v-8.33 M291.5 1639v8.33 M465.5 1861v-8.33 M465.5 1639v8.33 M639.5 1861v-8.33 M639.5 1639v8.33 M813.5 1861v-8.33 M813.5 1639v8.33 M987.5 1861v-8.33 M987.5 1639v8.33 M1161.5 1861v-8.33 M1161.5 1639v8.33 M1335.5 1861v-8.33 M1335.5 1639v8.33 M1509.5 1861v-8.33 M1509.5 1639v8.33 M1683.5 1861v-8.33 M1683.5 1639v8.33" stroke="#000" stroke-width="1" fill="none"/>
<text x="74.2" y="1865.9" font-size="17.67" textLength="34.08" lengthAdjust="spacingAndGlyphs">−10</text>
<text x="98.41" y="1838.9" font-size="17.67" textLength="9.77" lengthAdjust="spacingAndGlyphs">0</text>
<text x="87.83" y="1810.9" font-size="17.67" textLength="20.39" lengthAdjust="spacingAndGlyphs">10</text>
<text x="87.69" y="1782.9" font-size="17.67" textLength="20.53" lengthAdjust="spacingAndGlyphs">20</text>
<text x="87.97" y="1754.9" font-size="17.67" textLength="20.24" lengthAdjust="spacingAndGlyphs">30</text>
<text x="87.79" y="1727.9" font-size="17.67" textLength="20.43" lengthAdjust="spacingAndGlyphs">40</text>
<text x="87.95" y="1699.9" font-size="17.67" textLength="20.26" lengthAdjust="spacingAndGlyphs">50</text>
<text x="87.62" y="1671.9" font-size="17.67" textLength="20.61" lengthAdjust="spacingAndGlyphs">60</text>
<text x="87.82" y="1643.9" font-size="17.67" textLength="20.39" lengthAdjust="spacingAndGlyphs">70</text>
<path d="M117 1861.5h8.33 M1683 1861.5h-8.33 M117 1834.5h8.33 M1683 1834.5h-8.33 M117 1806.5h8.33 M1683 1806.5h-8.33 M117 1778.5h8.33 M1683 1778.5h-8.33 M117 1750.5h8.33 M1683 1750.5h-8.33 M117 1723.5h8.33 M1683 1723.5h-8.33 M117 1695.5h8.33 M1683 1695.5h-8.33 M117 1667.5h8.33 M1683 1667.5h-8.33 M117 1639.5h8.33 M1683 1639.5h-8.33" stroke="#000" stroke-width="1" fill="none"/>
<text x="707.23" y="1628.8" font-size="24.3" textLength="385.31" lengthAdjust="spacingAndGlyphs">Magnetic Field (Flux Rope Frame)</text>
<text x="35.39" y="1750" font-size="17.67" textLength="44.7" lengthAdjust="spacingAndGlyphs" transform="rotate(-90 57.82 1750)">B(nT)</text>
<rect x="1601.2" y="1646" width="74.8" height="94.5" fill="#fff" stroke="#000" stroke-width="2"/>
<path d="M1610 1658.9H1633.1" stroke="#ff0000" stroke-width="2.08"/>
<text x="1648.5" y="1663.9" font-size="15.45" textLength="21.95" lengthAdjust="spacingAndGlyphs">Bx'</text>
<path d="M1610 1680.9H1633.1" stroke="#008000" stroke-width="2.08"/>
<text x="1648.5" y="1685.9" font-size="15.45" textLength="21.95" lengthAdjust="spacingAndGlyphs">By'</text>
<path d="M1610 1702.9H1633.1" stroke="#0000ff" stroke-width="2.08"/>
<text x="1648.57" y="1707.9" font-size="15.45" textLength="20.87" lengthAdjust="spacingAndGlyphs">Bz'</text>
<path d="M1610 1724.9H1633.1" stroke="#000000" stroke-width="2.08"/>
<text x="1648.82" y="1729.9" font-size="15.45" textLength="18.98" lengthAdjust="spacingAndGlyphs">|B|</text>
<path d="M117 1986.07 L151.8 1982.17 L186.6 1985.52 L221.4 1985.52 L256.2 1985.52 L291 1986.07 L325.8 1987.19 L360.6 1986.07 L395.4 1984.96 L430.2 1985.52 L465 1986.07 L499.8 1984.96 L534.6 1983.85 L569.4 1984.96 L604.2 1984.96 L639 1983.85 L673.8 1984.96 L708.6 1983.85 L743.4 1984.96 L778.2 1984.96 L813 1983.85 L847.8 1986.07 L882.6 1986.07 L917.4 1986.07 L952.2 1986.07 L987 1985.52 L1021.8 1984.96 L1056.6 1984.4 L1091.4 1983.29 L1126.2 1982.73 L1161 1982.17 L1195.8 1981.62 L1230.6 1981.06 L1265.4 1982.73 L1300.2 1981.06 L1335 1981.62 L1369.8 1981.62 L1404.6 1981.06 L1439.4 1980.5 L1474.2 1981.06 L1509 1981.06 L1543.8 1981.06 L1578.6 1981.62 L1613.4 1982.17 L1648.2 1981.62 L1683 1983.85" stroke="#ff0000" stroke-width="2.08" fill="none" stroke-linejoin="round" stroke-linecap="butt" clip-path="url(#c8)"/>
<path d="M117 2143.79 L151.8 2121.5 L186.6 2144.9 L221.4 2144.35 L256.2 2145.46 L291 2144.35 L325.8 2145.46 L360.6 2142.67 L395.4 2144.35 L430.2 2143.23 L465 2143.79 L499.8 2143.79 L534.6 2142.67 L569.4 2143.79 L604.2 2145.46 L639 2144.35 L673.8 2143.23 L708.6 2146.02 L743.4 2145.46 L778.2 2144.35 L813 2144.35 L847.8 2148.25 L882.6 2143.79 L917.4 2146.57 L952.2 2145.46 L987 2146.02 L1021.8 2144.9 L1056.6 2145.46 L1091.4 2144.35 L1126.2 2145.46 L1161 2147.69 L1195.8 2147.13 L1230.6 2146.57 L1265.4 2145.46 L1300.2 2147.13 L1335 2148.25 L1369.8 2147.69 L1404.6 2147.69 L1439.4 2147.13 L1474.2 2147.69 L1509 2148.25 L1543.8 2148.25 L1578.6 2147.69 L1613.4 2147.69 L1648.2 2147.13 L1683 2143.79" stroke="#008000" stroke-width="2.08" fill="none" stroke-linejoin="round" stroke-linecap="butt" clip-path="url(#c8)"/>
<path d="M117 2152.15 L151.8 2123.73 L186.6 2151.59 L221.4 2151.03 L256.2 2153.26 L291 2153.26 L325.8 2153.26 L360.6 2153.26 L395.4 2152.15 L430.2 2152.15 L465 2152.15 L499.8 2157.72 L534.6 2156.05 L569.4 2155.49 L604.2 2159.95 L639 2156.05 L673.8 2156.61 L708.6 2158.83 L743.4 2159.39 L778.2 2158.83 L813 2161.06 L847.8 2159.39 L882.6 2161.06 L917.4 2161.06 L952.2 2160.51 L987 2159.95 L1021.8 2159.95 L1056.6 2160.51 L1091.4 2160.51 L1126.2 2161.06 L1161 2157.16 L1195.8 2159.39 L1230.6 2157.72 L1265.4 2154.38 L1300.2 2157.72 L1335 2158.83 L1369.8 2158.83 L1404.6 2159.39 L1439.4 2159.95 L1474.2 2158.83 L1509 2157.72 L1543.8 2158.83 L1578.6 2158.83 L1613.4 2157.16 L1648.2 2155.49 L1683 2167.75" stroke="#0000ff" stroke-width="2.08" fill="none" stroke-linejoin="round" stroke-linecap="butt" clip-path="url(#c8)"/>
<rect x="117" y="1972" width="1566" height="222" fill="none" stroke="#000" stroke-width="2"/>
<text x="53.87" y="2216.7" font-size="17.67" textLength="127.36" lengthAdjust="spacingAndGlyphs">06/27 08:36:13</text>
<text x="227.77" y="2216.7" font-size="17.67" textLength="127.55" lengthAdjust="spacingAndGlyphs">06/27 08:36:18</text>
<text x="401.87" y="2216.7" font-size="17.67" textLength="127.36" lengthAdjust="spacingAndGlyphs">06/27 08:36:23</text>
<text x="575.77" y="2216.7" font-size="17.67" textLength="127.55" lengthAdjust="spacingAndGlyphs">06/27 08:36:28</text>
<text x="749.87" y="2216.7" font-size="17.67" textLength="127.36" lengthAdjust="spacingAndGlyphs">06/27 08:36:33</text>
<text x="923.77" y="2216.7" font-size="17.67" textLength="127.55" lengthAdjust="spacingAndGlyphs">06/27 08:36:38</text>
<text x="1097.87" y="2216.7" font-size="17.67" textLength="127.36" lengthAdjust="spacingAndGlyphs">06/27 08:36:43</text>
<text x="1271.77" y="2216.7" font-size="17.67" textLength="127.55" lengthAdjust="spacingAndGlyphs">06/27 08:36:48</text>
<text x="1445.87" y="2216.7" font-size="17.67" textLength="127.36" lengthAdjust="spacingAndGlyphs">06/27 08:36:53</text>
<text x="1619.77" y="2216.7" font-size="17.67" textLength="127.55" lengthAdjust="spacingAndGlyphs">06/27 08:36:58</text>
<path d="M117.5 2194v-8.33 M117.5 1972v8.33 M291.5 2194v-8.33 M291.5 1972v8.33 M465.5 2194v-8.33 M465.5 1972v8.33 M639.5 2194v-8.33 M639.5 1972v8.33 M813.5 2194v-8.33 M813.5 1972v8.33 M987.5 2194v-8.33 M987.5 1972v8.33 M1161.5 2194v-8.33 M1161.5 1972v8.33 M1335.5 2194v-8.33 M1335.5 1972v8.33 M1509.5 2194v-8.33 M1509.5 1972v8.33 M1683.5 2194v-8.33 M1683.5 1972v8.33" stroke="#000" stroke-width="1" fill="none"/>
<text x="63.61" y="2198.9" font-size="17.67" textLength="44.66" lengthAdjust="spacingAndGlyphs">−100</text>
<text x="74.2" y="2167.9" font-size="17.67" textLength="34.08" lengthAdjust="spacingAndGlyphs">−50</text>
<text x="98.41" y="2135.9" font-size="17.67" textLength="9.77" lengthAdjust="spacingAndGlyphs">0</text>
<text x="87.95" y="2103.9" font-size="17.67" textLength="20.26" lengthAdjust="spacingAndGlyphs">50</text>
<text x="77.2" y="2071.9" font-size="17.67" textLength="31.02" lengthAdjust="spacingAndGlyphs">100</text>
<text x="77.2" y="2040.9" font-size="17.67" textLength="31.02" lengthAdjust="spacingAndGlyphs">150</text>
<text x="77.07" y="2008.9" font-size="17.67" textLength="31.16" lengthAdjust="spacingAndGlyphs">200</text>
<text x="77.07" y="1976.9" font-size="17.67" textLength="31.16" lengthAdjust="spacingAndGlyphs">250</text>
<path d="M117 2194.5h8.33 M1683 2194.5h-8.33 M117 2163.5h8.33 M1683 2163.5h-8.33 M117 2131.5h8.33 M1683 2131.5h-8.33 M117 2099.5h8.33 M1683 2099.5h-8.33 M117 2067.5h8.33 M1683 2067.5h-8.33 M117 2036.5h8.33 M1683 2036.5h-8.33 M117 2004.5h8.33 M1683 2004.5h-8.33 M117 1972.5h8.33 M1683 1972.5h-8.33" stroke="#000" stroke-width="1" fill="none"/>
<text x="712.67" y="1961.8" font-size="24.3" textLength="374.61" lengthAdjust="spacingAndGlyphs">Solar Wind Velocity (RTN Frame)</text>
<text x="3.8" y="2083" font-size="17.67" textLength="86.59" lengthAdjust="spacingAndGlyphs" transform="rotate(-90 47.21 2083)">Vsw(km/s)</text>
<rect x="1604" y="1979" width="72" height="72.5" fill="#fff" stroke="#000" stroke-width="2"/>
<path d="M1612.8 1991.9H1635.9" stroke="#ff0000" stroke-width="2.08"/>
<text x="1651.24" y="1996.9" font-size="15.45" textLength="16.19" lengthAdjust="spacingAndGlyphs">Vr</text>
<path d="M1612.8 2013.9H1635.9" stroke="#008000" stroke-width="2.08"/>
<text x="1651.24" y="2018.9" font-size="15.45" textLength="15.42" lengthAdjust="spacingAndGlyphs">Vt</text>
<path d="M1612.8 2035.9H1635.9" stroke="#0000ff" stroke-width="2.08"/>
<text x="1651.25" y="2040.9" font-size="15.45" textLength="18.94" lengthAdjust="spacingAndGlyphs">Vn</text>
<path d="M117 2351.28 L151.8 2515.68 L186.6 2357.97 L221.4 2360.2 L256.2 2347.38 L291 2359.64 L325.8 2359.09 L360.6 2377.48 L395.4 2365.22 L430.2 2367.44 L465 2374.13 L499.8 2366.89 L534.6 2358.53 L569.4 2384.16 L604.2 2371.35 L639 2356.3 L673.8 2364.66 L708.6 2364.1 L743.4 2349.61 L778.2 2339.02 L813 2368 L847.8 2346.82 L882.6 2340.14 L917.4 2354.07 L952.2 2357.97 L987 2362.43 L1021.8 2359.09 L1056.6 2341.25 L1091.4 2378.59 L1126.2 2353.51 L1161 2349.05 L1195.8 2341.25 L1230.6 2338.47 L1265.4 2320.63 L1300.2 2347.38 L1335 2345.15 L1369.8 2354.63 L1404.6 2351.84 L1439.4 2361.31 L1474.2 2343.48 L1509 2340.14 L1543.8 2328.99 L1578.6 2355.18 L1613.4 2352.4 L1648.2 2351.28 L1683 2377.48" stroke="#0000ff" stroke-width="2.08" fill="none" stroke-linejoin="round" stroke-linecap="butt" clip-path="url(#c9)"/>
<rect x="117" y="2306" width="1566" height="222" fill="none" stroke="#000" stroke-width="2"/>
<text x="53.87" y="2550.7" font-size="17.67" textLength="127.36" lengthAdjust="spacingAndGlyphs">06/27 08:36:13</text>
<text x="227.77" y="2550.7" font-size="17.67" textLength="127.55" lengthAdjust="spacingAndGlyphs">06/27 08:36:18</text>
<text x="401.87" y="2550.7" font-size="17.67" textLength="127.36" lengthAdjust="spacingAndGlyphs">06/27 08:36:23</text>
<text x="575.77" y="2550.7" font-size="17.67" textLength="127.55" lengthAdjust="spacingAndGlyphs">06/27 08:36:28</text>
<text x="749.87" y="2550.7" font-size="17.67" textLength="127.36" lengthAdjust="spacingAndGlyphs">06/27 08:36:33</text>
<text x="923.77" y="2550.7" font-size="17.67" textLength="127.55" lengthAdjust="spacingAndGlyphs">06/27 08:36:38</text>
<text x="1097.87" y="2550.7" font-size="17.67" textLength="127.36" lengthAdjust="spacingAndGlyphs">06/27 08:36:43</text>
<text x="1271.77" y="2550.7" font-size="17.67" textLength="127.55" lengthAdjust="spacingAndGlyphs">06/27 08:36:48</text>
<text x="1445.87" y="2550.7" font-size="17.67" textLength="127.36" lengthAdjust="spacingAndGlyphs">06/27 08:36:53</text>
<text x="1619.77" y="2550.7" font-size="17.67" textLength="127.55" lengthAdjust="spacingAndGlyphs">06/27 08:36:58</text>
<path d="M117.5 2528v-8.33 M117.5 2306v8.33 M291.5 2528v-8.33 M291.5 2306v8.33 M465.5 2528v-8.33 M465.5 2306v8.33 M639.5 2528v-8.33 M639.5 2306v8.33 M813.5 2528v-8.33 M813.5 2306v8.33 M987.5 2528v-8.33 M987.5 2306v8.33 M1161.5 2528v-8.33 M1161.5 2306v8.33 M1335.5 2528v-8.33 M1335.5 2306v8.33 M1509.5 2528v-8.33 M1509.5 2306v8.33 M1683.5 2528v-8.33 M1683.5 2306v8.33" stroke="#000" stroke-width="1" fill="none"/>
<text x="72.43" y="2532.9" font-size="17.67" textLength="36" lengthAdjust="spacingAndGlyphs">0.02</text>
<text x="71.69" y="2505.9" font-size="17.67" textLength="36.36" lengthAdjust="spacingAndGlyphs">0.04</text>
<text x="71.8" y="2477.9" font-size="17.67" textLength="36.53" lengthAdjust="spacingAndGlyphs">0.06</text>
<text x="71.89" y="2449.9" font-size="17.67" textLength="36.42" lengthAdjust="spacingAndGlyphs">0.08</text>
<text x="71.86" y="2421.9" font-size="17.67" textLength="36.37" lengthAdjust="spacingAndGlyphs">0.10</text>
<text x="72.43" y="2394.9" font-size="17.67" textLength="36" lengthAdjust="spacingAndGlyphs">0.12</text>
<text x="71.69" y="2366.9" font-size="17.67" textLength="36.36" lengthAdjust="spacingAndGlyphs">0.14</text>
<text x="71.8" y="2338.9" font-size="17.67" textLength="36.53" lengthAdjust="spacingAndGlyphs">0.16</text>
<text x="71.89" y="2310.9" font-size="17.67" textLength="36.42" lengthAdjust="spacingAndGlyphs">0.18</text>
<path d="M117 2528.5h8.33 M1683 2528.5h-8.33 M117 2501.5h8.33 M1683 2501.5h-8.33 M117 2473.5h8.33 M1683 2473.5h-8.33 M117 2445.5h8.33 M1683 2445.5h-8.33 M117 2417.5h8.33 M1683 2417.5h-8.33 M117 2390.5h8.33 M1683 2390.5h-8.33 M117 2362.5h8.33 M1683 2362.5h-8.33 M117 2334.5h8.33 M1683 2334.5h-8.33 M117 2306.5h8.33 M1683 2306.5h-8.33" stroke="#000" stroke-width="1" fill="none"/>
<text x="828.87" y="2295.8" font-size="24.3" textLength="140.39" lengthAdjust="spacingAndGlyphs">Plasma Beta</text>
<text x="53.5" y="2425.5" font-family="Liberation Serif" font-style="italic" font-size="17" transform="rotate(-90 53.5 2425.5)">β<tspan font-size="12" dy="2.5">p</tspan></text>
<path d="M117 2667.56 L151.8 2847.01 L186.6 2669.24 L221.4 2679.27 L256.2 2669.24 L291 2682.61 L325.8 2680.94 L360.6 2703.79 L395.4 2691.53 L430.2 2693.76 L465 2693.76 L499.8 2684.28 L534.6 2702.67 L569.4 2721.62 L604.2 2698.22 L639 2674.81 L673.8 2708.8 L708.6 2691.53 L743.4 2679.82 L778.2 2675.37 L813 2702.12 L847.8 2678.15 L882.6 2675.37 L917.4 2686.51 L952.2 2692.09 L987 2695.99 L1021.8 2694.31 L1056.6 2661.43 L1091.4 2718.84 L1126.2 2687.63 L1161 2667.01 L1195.8 2665.34 L1230.6 2663.11 L1265.4 2645.83 L1300.2 2671.47 L1335 2660.88 L1369.8 2672.58 L1404.6 2654.75 L1439.4 2681.5 L1474.2 2667.01 L1509 2674.81 L1543.8 2657.53 L1578.6 2668.12 L1613.4 2677.04 L1648.2 2669.79 L1683 2707.13" stroke="#0000ff" stroke-width="2.08" fill="none" stroke-linejoin="round" stroke-linecap="butt" clip-path="url(#c10)"/>
<rect x="117" y="2639" width="1566" height="222" fill="none" stroke="#000" stroke-width="2"/>
<text x="53.87" y="2883.7" font-size="17.67" textLength="127.36" lengthAdjust="spacingAndGlyphs">06/27 08:36:13</text>
<text x="227.77" y="2883.7" font-size="17.67" textLength="127.55" lengthAdjust="spacingAndGlyphs">06/27 08:36:18</text>
<text x="401.87" y="2883.7" font-size="17.67" textLength="127.36" lengthAdjust="spacingAndGlyphs">06/27 08:36:23</text>
<text x="575.77" y="2883.7" font-size="17.67" textLength="127.55" lengthAdjust="spacingAndGlyphs">06/27 08:36:28</text>
<text x="749.87" y="2883.7" font-size="17.67" textLength="127.36" lengthAdjust="spacingAndGlyphs">06/27 08:36:33</text>
<text x="923.77" y="2883.7" font-size="17.67" textLength="127.55" lengthAdjust="spacingAndGlyphs">06/27 08:36:38</text>
<text x="1097.87" y="2883.7" font-size="17.67" textLength="127.36" lengthAdjust="spacingAndGlyphs">06/27 08:36:43</text>
<text x="1271.77" y="2883.7" font-size="17.67" textLength="127.55" lengthAdjust="spacingAndGlyphs">06/27 08:36:48</text>
<text x="1445.87" y="2883.7" font-size="17.67" textLength="127.36" lengthAdjust="spacingAndGlyphs">06/27 08:36:53</text>
<text x="1619.77" y="2883.7" font-size="17.67" textLength="127.55" lengthAdjust="spacingAndGlyphs">06/27 08:36:58</text>
<path d="M117.5 2861v-8.33 M117.5 2639v8.33 M291.5 2861v-8.33 M291.5 2639v8.33 M465.5 2861v-8.33 M465.5 2639v8.33 M639.5 2861v-8.33 M639.5 2639v8.33 M813.5 2861v-8.33 M813.5 2639v8.33 M987.5 2861v-8.33 M987.5 2639v8.33 M1161.5 2861v-8.33 M1161.5 2639v8.33 M1335.5 2861v-8.33 M1335.5 2639v8.33 M1509.5 2861v-8.33 M1509.5 2639v8.33 M1683.5 2861v-8.33 M1683.5 2639v8.33" stroke="#000" stroke-width="1" fill="none"/>
<text x="77.2" y="2865.9" font-size="17.67" textLength="31.02" lengthAdjust="spacingAndGlyphs">140</text>
<text x="77.2" y="2828.9" font-size="17.67" textLength="31.02" lengthAdjust="spacingAndGlyphs">150</text>
<text x="77.2" y="2791.9" font-size="17.67" textLength="31.02" lengthAdjust="spacingAndGlyphs">160</text>
<text x="77.2" y="2754.9" font-size="17.67" textLength="31.02" lengthAdjust="spacingAndGlyphs">170</text>
<text x="77.2" y="2717.9" font-size="17.67" textLength="31.02" lengthAdjust="spacingAndGlyphs">180</text>
<text x="77.2" y="2680.9" font-size="17.67" textLength="31.02" lengthAdjust="spacingAndGlyphs">190</text>
<text x="77.07" y="2643.9" font-size="17.67" textLength="31.16" lengthAdjust="spacingAndGlyphs">200</text>
<path d="M117 2861.5h8.33 M1683 2861.5h-8.33 M117 2824.5h8.33 M1683 2824.5h-8.33 M117 2787.5h8.33 M1683 2787.5h-8.33 M117 2750.5h8.33 M1683 2750.5h-8.33 M117 2713.5h8.33 M1683 2713.5h-8.33 M117 2676.5h8.33 M1683 2676.5h-8.33 M117 2639.5h8.33 M1683 2639.5h-8.33" stroke="#000" stroke-width="1" fill="none"/>
<text x="765.84" y="2628.8" font-size="24.3" textLength="267.81" lengthAdjust="spacingAndGlyphs">Proton Number Density</text>
<text x="24.23" y="2750" font-size="17.67" textLength="73.71" lengthAdjust="spacingAndGlyphs" transform="rotate(-90 61.18 2750)">Np(#/cc)</text>
<path d="M117 3007.14 L151.8 3193.83 L186.6 3019.4 L221.4 3019.4 L256.2 3005.47 L291 3016.61 L325.8 3010.48 L360.6 3026.64 L395.4 3015.5 L430.2 3017.17 L465 3023.3 L499.8 3019.96 L534.6 2999.89 L569.4 3028.31 L604.2 3015.5 L639 3009.37 L673.8 3009.37 L708.6 3012.15 L743.4 2998.22 L778.2 2987.07 L813 3016.61 L847.8 2990.42 L882.6 2988.75 L917.4 3000.45 L952.2 3004.91 L987 3008.25 L1021.8 3006.58 L1056.6 2997.11 L1091.4 3024.97 L1126.2 3002.68 L1161 3012.71 L1195.8 3003.24 L1230.6 3003.79 L1265.4 2989.3 L1300.2 3011.6 L1335 3011.6 L1369.8 3018.84 L1404.6 3020.51 L1439.4 3022.18 L1474.2 3005.47 L1509 2999.89 L1543.8 2994.32 L1578.6 3019.4 L1613.4 3015.5 L1648.2 3014.38 L1683 3031.66" stroke="#0000ff" stroke-width="2.08" fill="none" stroke-linejoin="round" stroke-linecap="butt" clip-path="url(#c11)"/>
<rect x="117" y="2973" width="1566" height="222" fill="none" stroke="#000" stroke-width="2"/>
<text x="53.87" y="3217.7" font-size="17.67" textLength="127.36" lengthAdjust="spacingAndGlyphs">06/27 08:36:13</text>
<text x="227.77" y="3217.7" font-size="17.67" textLength="127.55" lengthAdjust="spacingAndGlyphs">06/27 08:36:18</text>
<text x="401.87" y="3217.7" font-size="17.67" textLength="127.36" lengthAdjust="spacingAndGlyphs">06/27 08:36:23</text>
<text x="575.77" y="3217.7" font-size="17.67" textLength="127.55" lengthAdjust="spacingAndGlyphs">06/27 08:36:28</text>
<text x="749.87" y="3217.7" font-size="17.67" textLength="127.36" lengthAdjust="spacingAndGlyphs">06/27 08:36:33</text>
<text x="923.77" y="3217.7" font-size="17.67" textLength="127.55" lengthAdjust="spacingAndGlyphs">06/27 08:36:38</text>
<text x="1097.87" y="3217.7" font-size="17.67" textLength="127.36" lengthAdjust="spacingAndGlyphs">06/27 08:36:43</text>
<text x="1271.77" y="3217.7" font-size="17.67" textLength="127.55" lengthAdjust="spacingAndGlyphs">06/27 08:36:48</text>
<text x="1445.87" y="3217.7" font-size="17.67" textLength="127.36" lengthAdjust="spacingAndGlyphs">06/27 08:36:53</text>
<text x="1619.77" y="3217.7" font-size="17.67" textLength="127.55" lengthAdjust="spacingAndGlyphs">06/27 08:36:58</text>
<path d="M117.5 3195v-8.33 M117.5 2973v8.33 M291.5 3195v-8.33 M291.5 2973v8.33 M465.5 3195v-8.33 M465.5 2973v8.33 M639.5 3195v-8.33 M639.5 2973v8.33 M813.5 3195v-8.33 M813.5 2973v8.33 M987.5 3195v-8.33 M987.5 2973v8.33 M1161.5 3195v-8.33 M1161.5 2973v8.33 M1335.5 3195v-8.33 M1335.5 2973v8.33 M1509.5 3195v-8.33 M1509.5 2973v8.33 M1683.5 3195v-8.33 M1683.5 2973v8.33" stroke="#000" stroke-width="1" fill="none"/>
<text x="72.43" y="3199.9" font-size="17.67" textLength="36" lengthAdjust="spacingAndGlyphs">0.02</text>
<text x="72.09" y="3168.9" font-size="17.67" textLength="36.23" lengthAdjust="spacingAndGlyphs">0.03</text>
<text x="71.69" y="3136.9" font-size="17.67" textLength="36.36" lengthAdjust="spacingAndGlyphs">0.04</text>
<text x="72.22" y="3104.9" font-size="17.67" textLength="36.06" lengthAdjust="spacingAndGlyphs">0.05</text>
<text x="71.8" y="3072.9" font-size="17.67" textLength="36.53" lengthAdjust="spacingAndGlyphs">0.06</text>
<text x="72.18" y="3041.9" font-size="17.67" textLength="36.26" lengthAdjust="spacingAndGlyphs">0.07</text>
<text x="71.89" y="3009.9" font-size="17.67" textLength="36.42" lengthAdjust="spacingAndGlyphs">0.08</text>
<text x="71.92" y="2977.9" font-size="17.67" textLength="36.47" lengthAdjust="spacingAndGlyphs">0.09</text>
<path d="M117 3195.5h8.33 M1683 3195.5h-8.33 M117 3164.5h8.33 M1683 3164.5h-8.33 M117 3132.5h8.33 M1683 3132.5h-8.33 M117 3100.5h8.33 M1683 3100.5h-8.33 M117 3068.5h8.33 M1683 3068.5h-8.33 M117 3037.5h8.33 M1683 3037.5h-8.33 M117 3005.5h8.33 M1683 3005.5h-8.33 M117 2973.5h8.33 M1683 2973.5h-8.33" stroke="#000" stroke-width="1" fill="none"/>
<text x="726.38" y="2960" font-size="24.3" textLength="281.53" lengthAdjust="spacingAndGlyphs">Proton Temperature and</text>
<text y="2960" font-family="Liberation Serif" font-style="italic" font-size="22"><tspan x="1013" textLength="19" lengthAdjust="spacingAndGlyphs">T</tspan><tspan x="1032" dy="3.5" font-size="15">e</tspan></text>
<text x="1041" y="2960" font-family="Liberation Serif" font-size="23">/</text>
<text y="2960" font-family="Liberation Serif" font-style="italic" font-size="22"><tspan x="1050" textLength="18" lengthAdjust="spacingAndGlyphs">T</tspan><tspan x="1066" dy="3.5" font-size="15">p</tspan></text>
<g transform="rotate(-90 52.9 3084)"><text x="52.9" y="3084" font-size="17.67" text-anchor="middle">Tp(10<tspan font-size="12" dy="-6">6</tspan><tspan dy="6">K)</tspan></text></g>
<rect x="124" y="2980" width="71" height="26.7" fill="#fff" stroke="#000" stroke-width="2"/>
<path d="M132.8 2992.9H155.9" stroke="#0000ff" stroke-width="2.08"/>
<text x="170.8" y="2997.9" font-size="15.45" textLength="18.42" lengthAdjust="spacingAndGlyphs">Tp</text>
</svg>
</body></html>
